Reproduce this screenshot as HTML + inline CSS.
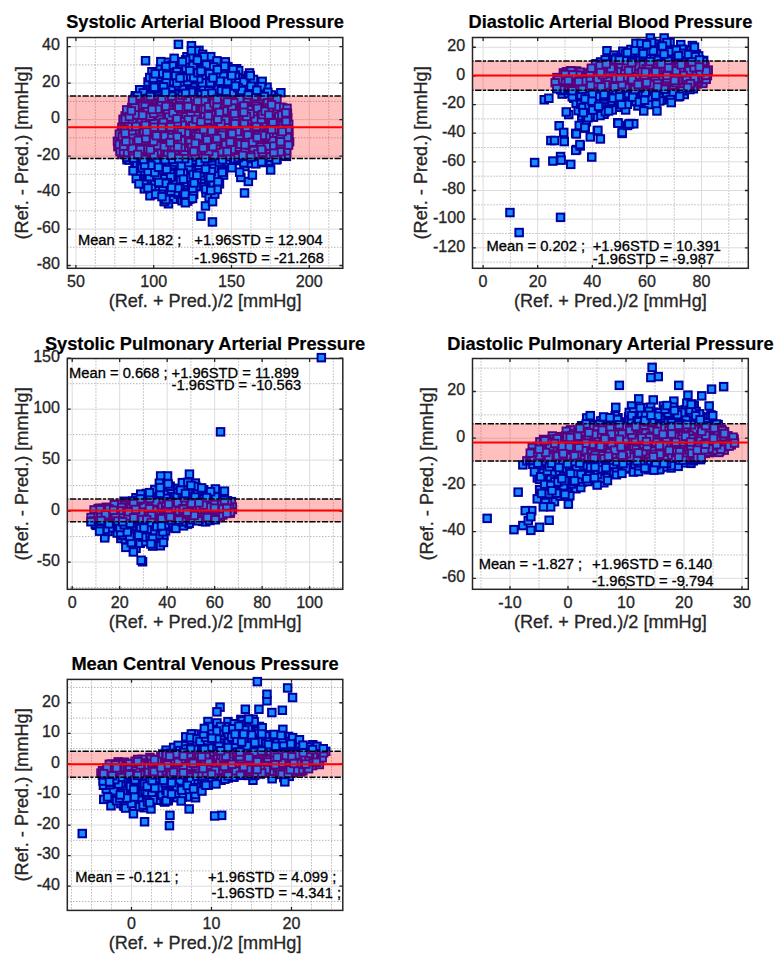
<!DOCTYPE html>
<html><head><meta charset="utf-8"><title>Bland-Altman</title><style>html,body{margin:0;padding:0;background:#fff;}
svg{display:block;}
text{font-family:"Liberation Sans", sans-serif;fill:#262626;stroke:#262626;stroke-width:0.3px;}
.tk{font-size:15.8px;}
.ti{font-size:17.7px;font-weight:bold;fill:#000;stroke:#000;stroke-width:0.2px;}
.lb{font-size:17.7px;}
.an{font-size:14.5px;fill:#000;stroke:#000;}
.mk rect,.u{width:7.5px;height:7.5px;}
.mo{fill:#148cff;stroke:#0000a0;stroke-width:2.0px;}
.mi{fill:#3278e6;stroke:#5a007c;stroke-width:1.9px;}
.dd{stroke:#000;stroke-width:1.5;stroke-dasharray:6.3 1.5 3.2 1.6;stroke-dashoffset:10;fill:none;}
</style></head>
<body><svg width="784" height="962" viewBox="0 0 784 962">
<defs>
<clipPath id="a0"><rect x="67.3" y="37.5" width="275.5" height="230.8"/></clipPath>
<clipPath id="o0"><path clip-rule="evenodd" d="M37.3 7.5H372.8V298.3H37.3zM67.3 96.06H342.8V158.39H67.3z"/></clipPath>
<clipPath id="n0"><rect x="67.3" y="96.06" width="275.5" height="62.33"/></clipPath>
<g id="m0" class="mk"><rect x="168.4" y="141.1"/><rect x="220.6" y="90.2"/><rect x="148.0" y="141.3"/><rect x="249.4" y="132.1"/><rect x="280.3" y="143.3"/><rect x="184.0" y="197.3"/><rect x="136.5" y="170.8"/><rect x="198.9" y="93.3"/><rect x="223.7" y="143.2"/><rect x="179.3" y="111.8"/><rect x="123.7" y="140.9"/><rect x="228.3" y="161.2"/><rect x="124.3" y="109.3"/><rect x="151.3" y="153.8"/><rect x="160.6" y="197.4"/><rect x="282.9" y="149.8"/><rect x="173.2" y="119.3"/><rect x="228.2" y="140.1"/><rect x="140.0" y="174.0"/><rect x="235.5" y="148.4"/><rect x="178.3" y="197.0"/><rect x="187.7" y="42.0"/><rect x="165.2" y="100.6"/><rect x="174.2" y="112.4"/><rect x="119.8" y="142.9"/><rect x="171.0" y="95.8"/><rect x="146.2" y="140.7"/><rect x="196.2" y="86.7"/><rect x="141.1" y="86.8"/><rect x="203.5" y="74.1"/><rect x="134.5" y="145.6"/><rect x="210.2" y="83.4"/><rect x="183.7" y="83.3"/><rect x="158.1" y="77.2"/><rect x="263.3" y="83.4"/><rect x="143.4" y="112.2"/><rect x="261.6" y="125.8"/><rect x="190.5" y="150.4"/><rect x="244.6" y="177.7"/><rect x="241.0" y="90.2"/><rect x="183.4" y="146.5"/><rect x="146.7" y="83.5"/><rect x="248.8" y="89.3"/><rect x="244.4" y="146.7"/><rect x="171.4" y="141.8"/><rect x="201.9" y="69.3"/><rect x="175.5" y="161.9"/><rect x="154.4" y="142.8"/><rect x="202.7" y="156.2"/><rect x="150.6" y="162.7"/><rect x="210.3" y="70.7"/><rect x="171.2" y="165.8"/><rect x="144.1" y="140.6"/><rect x="199.4" y="109.5"/><rect x="139.0" y="138.3"/><rect x="155.3" y="97.5"/><rect x="210.4" y="104.7"/><rect x="265.6" y="92.8"/><rect x="204.8" y="110.3"/><rect x="143.9" y="115.0"/><rect x="186.0" y="195.3"/><rect x="219.5" y="160.7"/><rect x="134.2" y="117.3"/><rect x="232.5" y="138.1"/><rect x="265.2" y="108.3"/><rect x="181.1" y="119.2"/><rect x="130.0" y="147.3"/><rect x="203.0" y="58.7"/><rect x="248.6" y="92.7"/><rect x="245.7" y="75.9"/><rect x="164.0" y="153.3"/><rect x="270.1" y="109.4"/><rect x="234.7" y="70.9"/><rect x="135.1" y="99.4"/><rect x="146.7" y="136.5"/><rect x="169.0" y="78.3"/><rect x="242.7" y="130.1"/><rect x="140.2" y="169.4"/><rect x="223.6" y="95.6"/><rect x="247.4" y="99.2"/><rect x="169.5" y="195.4"/><rect x="147.6" y="95.2"/><rect x="237.3" y="75.1"/><rect x="220.9" y="122.8"/><rect x="233.1" y="155.4"/><rect x="177.3" y="62.8"/><rect x="251.9" y="144.2"/><rect x="154.5" y="105.7"/><rect x="180.9" y="157.3"/><rect x="200.9" y="59.8"/><rect x="185.0" y="137.9"/><rect x="222.2" y="109.2"/><rect x="170.6" y="63.7"/><rect x="243.2" y="76.9"/><rect x="196.2" y="114.2"/><rect x="197.3" y="55.4"/><rect x="232.8" y="65.0"/><rect x="168.0" y="154.6"/><rect x="165.6" y="107.9"/><rect x="264.6" y="96.1"/><rect x="193.1" y="81.1"/><rect x="188.5" y="132.6"/><rect x="150.7" y="132.4"/><rect x="134.7" y="110.7"/><rect x="277.1" y="119.7"/><rect x="135.7" y="132.6"/><rect x="213.9" y="126.3"/><rect x="144.7" y="106.9"/><rect x="180.9" y="123.9"/><rect x="173.9" y="116.1"/><rect x="237.0" y="100.3"/><rect x="180.1" y="80.8"/><rect x="255.2" y="117.7"/><rect x="189.2" y="163.0"/><rect x="197.6" y="135.5"/><rect x="171.3" y="124.2"/><rect x="244.7" y="112.7"/><rect x="145.5" y="99.3"/><rect x="197.5" y="112.9"/><rect x="220.8" y="144.1"/><rect x="157.3" y="152.4"/><rect x="183.1" y="186.3"/><rect x="263.0" y="144.5"/><rect x="195.2" y="46.6"/><rect x="227.4" y="97.3"/><rect x="204.3" y="177.5"/><rect x="177.6" y="185.2"/><rect x="273.5" y="135.5"/><rect x="154.4" y="147.4"/><rect x="128.1" y="140.7"/><rect x="160.2" y="102.9"/><rect x="236.4" y="152.2"/><rect x="169.9" y="183.9"/><rect x="247.3" y="104.8"/><rect x="185.8" y="191.9"/><rect x="195.3" y="121.6"/><rect x="142.1" y="153.1"/><rect x="170.3" y="173.9"/><rect x="159.6" y="126.5"/><rect x="182.4" y="174.9"/><rect x="216.0" y="163.8"/><rect x="145.0" y="125.8"/><rect x="148.8" y="75.4"/><rect x="182.0" y="115.2"/><rect x="135.4" y="113.0"/><rect x="267.1" y="109.4"/><rect x="203.1" y="138.6"/><rect x="229.9" y="98.0"/><rect x="175.7" y="126.2"/><rect x="216.7" y="83.2"/><rect x="225.0" y="131.9"/><rect x="202.4" y="129.2"/><rect x="258.9" y="120.5"/><rect x="149.2" y="90.1"/><rect x="225.1" y="75.8"/><rect x="222.8" y="92.8"/><rect x="179.7" y="67.8"/><rect x="201.1" y="80.0"/><rect x="137.0" y="147.2"/><rect x="271.3" y="120.5"/><rect x="154.8" y="139.6"/><rect x="146.8" y="153.7"/><rect x="186.7" y="162.3"/><rect x="178.3" y="188.5"/><rect x="165.1" y="97.3"/><rect x="191.8" y="157.7"/><rect x="207.1" y="152.1"/><rect x="283.7" y="109.4"/><rect x="126.6" y="131.9"/><rect x="131.6" y="92.0"/><rect x="125.4" y="151.3"/><rect x="220.1" y="108.4"/><rect x="280.3" y="105.4"/><rect x="213.1" y="105.7"/><rect x="245.1" y="87.0"/><rect x="195.8" y="110.4"/><rect x="215.2" y="90.5"/><rect x="136.9" y="123.9"/><rect x="218.1" y="141.3"/><rect x="177.6" y="174.2"/><rect x="277.1" y="89.0"/><rect x="136.2" y="128.1"/><rect x="185.4" y="99.2"/><rect x="199.7" y="102.9"/><rect x="241.1" y="151.0"/><rect x="178.3" y="95.1"/><rect x="136.0" y="137.1"/><rect x="219.8" y="111.3"/><rect x="240.9" y="117.5"/><rect x="149.2" y="102.4"/><rect x="263.5" y="155.6"/><rect x="185.3" y="94.6"/><rect x="140.1" y="97.0"/><rect x="126.6" y="108.6"/><rect x="208.6" y="134.7"/><rect x="210.4" y="78.2"/><rect x="262.9" y="157.9"/><rect x="157.9" y="115.6"/><rect x="245.0" y="103.1"/><rect x="204.2" y="66.4"/><rect x="132.0" y="125.7"/><rect x="234.2" y="98.2"/><rect x="269.2" y="134.2"/><rect x="231.8" y="83.4"/><rect x="129.6" y="115.5"/><rect x="174.6" y="84.7"/><rect x="241.0" y="115.0"/><rect x="270.5" y="114.1"/><rect x="205.1" y="117.6"/><rect x="230.8" y="149.1"/><rect x="164.5" y="134.5"/><rect x="203.3" y="142.8"/><rect x="201.0" y="115.0"/><rect x="134.7" y="133.2"/><rect x="210.1" y="114.7"/><rect x="222.7" y="80.5"/><rect x="150.2" y="128.2"/><rect x="228.8" y="117.4"/><rect x="164.7" y="86.3"/><rect x="183.4" y="195.1"/><rect x="168.6" y="118.4"/><rect x="245.1" y="114.9"/><rect x="208.2" y="72.8"/><rect x="183.7" y="132.4"/><rect x="170.8" y="151.6"/><rect x="194.6" y="160.2"/><rect x="154.0" y="180.5"/><rect x="139.6" y="119.5"/><rect x="162.7" y="112.8"/><rect x="188.3" y="104.6"/><rect x="168.2" y="74.3"/><rect x="261.5" y="117.4"/><rect x="255.3" y="117.2"/><rect x="196.4" y="125.4"/><rect x="132.2" y="154.6"/><rect x="152.1" y="174.0"/><rect x="148.4" y="155.6"/><rect x="162.9" y="120.4"/><rect x="194.5" y="55.2"/><rect x="192.2" y="98.7"/><rect x="128.7" y="125.2"/><rect x="186.1" y="122.5"/><rect x="212.0" y="153.2"/><rect x="160.6" y="104.6"/><rect x="238.0" y="131.9"/><rect x="222.1" y="120.7"/><rect x="148.1" y="113.8"/><rect x="208.1" y="118.2"/><rect x="225.6" y="79.8"/><rect x="174.3" y="190.4"/><rect x="201.7" y="202.2"/><rect x="248.5" y="116.0"/><rect x="170.7" y="94.2"/><rect x="250.7" y="149.9"/><rect x="151.4" y="115.3"/><rect x="173.1" y="133.3"/><rect x="250.4" y="127.9"/><rect x="189.3" y="151.2"/><rect x="216.3" y="93.3"/><rect x="257.2" y="103.4"/><rect x="185.9" y="110.4"/><rect x="241.5" y="121.4"/><rect x="169.1" y="114.0"/><rect x="167.6" y="182.0"/><rect x="164.7" y="200.0"/><rect x="237.1" y="173.7"/><rect x="133.4" y="99.1"/><rect x="130.8" y="129.3"/><rect x="164.1" y="58.5"/><rect x="207.2" y="145.7"/><rect x="210.9" y="123.8"/><rect x="193.8" y="59.7"/><rect x="131.7" y="109.4"/><rect x="247.2" y="124.8"/><rect x="129.0" y="136.5"/><rect x="229.0" y="69.1"/><rect x="203.4" y="78.1"/><rect x="180.5" y="102.5"/><rect x="217.7" y="96.6"/><rect x="194.7" y="114.8"/><rect x="147.9" y="191.0"/><rect x="284.8" y="132.5"/><rect x="222.0" y="154.4"/><rect x="234.0" y="135.1"/><rect x="222.3" y="103.8"/><rect x="273.7" y="104.2"/><rect x="234.9" y="125.3"/><rect x="136.8" y="102.8"/><rect x="166.6" y="128.3"/><rect x="180.1" y="88.0"/><rect x="129.0" y="106.9"/><rect x="123.3" y="156.0"/><rect x="197.3" y="164.5"/><rect x="241.7" y="157.1"/><rect x="213.0" y="142.9"/><rect x="202.1" y="117.4"/><rect x="147.0" y="102.7"/><rect x="278.4" y="145.4"/><rect x="173.6" y="134.6"/><rect x="141.8" y="174.9"/><rect x="132.6" y="116.1"/><rect x="143.1" y="133.2"/><rect x="139.5" y="116.1"/><rect x="139.1" y="147.0"/><rect x="193.6" y="92.4"/><rect x="253.5" y="133.7"/><rect x="263.8" y="119.6"/><rect x="134.1" y="95.7"/><rect x="151.3" y="109.2"/><rect x="285.9" y="138.0"/><rect x="250.1" y="82.1"/><rect x="247.1" y="140.1"/><rect x="243.9" y="123.4"/><rect x="172.4" y="102.4"/><rect x="200.7" y="177.7"/><rect x="171.2" y="178.7"/><rect x="269.8" y="93.6"/><rect x="206.5" y="156.8"/><rect x="222.3" y="72.7"/><rect x="236.3" y="79.4"/><rect x="248.4" y="145.6"/><rect x="224.5" y="132.7"/><rect x="188.5" y="155.3"/><rect x="258.6" y="138.6"/><rect x="256.4" y="101.9"/><rect x="195.9" y="121.6"/><rect x="270.4" y="128.1"/><rect x="232.6" y="88.6"/><rect x="239.9" y="133.8"/><rect x="154.0" y="136.5"/><rect x="150.2" y="75.9"/><rect x="173.6" y="136.9"/><rect x="182.9" y="140.1"/><rect x="241.2" y="162.8"/><rect x="198.0" y="138.4"/><rect x="150.3" y="135.1"/><rect x="264.0" y="153.2"/><rect x="176.8" y="110.8"/><rect x="160.7" y="90.1"/><rect x="234.3" y="103.2"/><rect x="179.9" y="182.9"/><rect x="245.8" y="93.8"/><rect x="261.5" y="103.1"/><rect x="191.2" y="76.6"/><rect x="244.2" y="119.9"/><rect x="193.1" y="50.5"/><rect x="172.2" y="148.4"/><rect x="256.2" y="96.7"/><rect x="168.7" y="101.3"/><rect x="140.8" y="106.5"/><rect x="234.9" y="66.8"/><rect x="239.1" y="139.0"/><rect x="144.3" y="78.2"/><rect x="238.2" y="111.0"/><rect x="191.8" y="88.3"/><rect x="146.2" y="192.0"/><rect x="190.2" y="111.3"/><rect x="176.4" y="152.0"/><rect x="171.3" y="168.2"/><rect x="214.4" y="73.0"/><rect x="189.5" y="92.4"/><rect x="167.8" y="178.9"/><rect x="114.1" y="142.9"/><rect x="275.1" y="150.1"/><rect x="160.0" y="169.3"/><rect x="250.3" y="108.1"/><rect x="259.9" y="91.0"/><rect x="265.3" y="114.9"/><rect x="124.0" y="126.9"/><rect x="124.2" y="143.3"/><rect x="242.1" y="95.3"/><rect x="154.5" y="78.2"/><rect x="157.7" y="138.9"/><rect x="160.5" y="164.6"/><rect x="128.9" y="130.4"/><rect x="205.5" y="164.9"/><rect x="270.0" y="130.7"/><rect x="270.3" y="111.7"/><rect x="268.9" y="112.8"/><rect x="140.7" y="123.6"/><rect x="186.2" y="78.0"/><rect x="143.2" y="109.9"/><rect x="168.4" y="107.3"/><rect x="238.9" y="105.6"/><rect x="224.2" y="63.1"/><rect x="191.6" y="96.2"/><rect x="161.0" y="180.3"/><rect x="175.3" y="172.1"/><rect x="172.4" y="110.6"/><rect x="132.4" y="102.9"/><rect x="233.7" y="130.1"/><rect x="240.1" y="148.7"/><rect x="216.7" y="146.0"/><rect x="199.6" y="129.5"/><rect x="230.8" y="136.5"/><rect x="266.8" y="116.9"/><rect x="194.9" y="102.9"/><rect x="176.8" y="181.3"/><rect x="255.0" y="148.2"/><rect x="184.2" y="181.0"/><rect x="166.5" y="119.1"/><rect x="206.1" y="114.0"/><rect x="243.7" y="137.7"/><rect x="154.2" y="119.0"/><rect x="280.6" y="128.3"/><rect x="208.8" y="63.1"/><rect x="248.7" y="121.8"/><rect x="262.4" y="123.5"/><rect x="225.5" y="140.2"/><rect x="188.5" y="156.5"/><rect x="256.1" y="142.8"/><rect x="240.8" y="152.6"/><rect x="229.4" y="92.6"/><rect x="201.6" y="134.4"/><rect x="264.9" y="125.7"/><rect x="157.3" y="145.1"/><rect x="205.7" y="109.5"/><rect x="163.6" y="104.5"/><rect x="209.1" y="128.7"/><rect x="202.4" y="87.1"/><rect x="210.7" y="57.7"/><rect x="127.8" y="135.0"/><rect x="184.4" y="135.0"/><rect x="209.9" y="176.4"/><rect x="186.3" y="176.5"/><rect x="267.5" y="140.9"/><rect x="204.8" y="181.3"/><rect x="137.6" y="122.9"/><rect x="152.8" y="186.9"/><rect x="181.8" y="109.4"/><rect x="187.2" y="165.8"/><rect x="220.6" y="139.0"/><rect x="144.6" y="146.7"/><rect x="220.8" y="67.5"/><rect x="137.7" y="120.0"/><rect x="213.7" y="151.5"/><rect x="183.6" y="80.8"/><rect x="164.7" y="83.0"/><rect x="119.3" y="115.5"/><rect x="168.9" y="99.7"/><rect x="203.4" y="150.9"/><rect x="230.2" y="120.8"/><rect x="143.8" y="144.1"/><rect x="147.7" y="121.8"/><rect x="279.6" y="148.8"/><rect x="181.5" y="74.6"/><rect x="175.4" y="97.8"/><rect x="181.2" y="161.2"/><rect x="238.9" y="121.3"/><rect x="172.4" y="180.3"/><rect x="246.4" y="126.8"/><rect x="207.7" y="177.2"/><rect x="121.4" y="112.1"/><rect x="196.9" y="110.0"/><rect x="188.8" y="142.6"/><rect x="171.9" y="68.1"/><rect x="211.4" y="183.9"/><rect x="174.1" y="129.8"/><rect x="196.2" y="149.7"/><rect x="176.8" y="176.2"/><rect x="158.4" y="129.7"/><rect x="227.4" y="104.3"/><rect x="238.7" y="127.0"/><rect x="281.7" y="114.6"/><rect x="243.7" y="135.0"/><rect x="258.6" y="134.0"/><rect x="116.4" y="147.0"/><rect x="136.3" y="91.7"/><rect x="184.1" y="141.5"/><rect x="217.9" y="132.6"/><rect x="156.3" y="112.2"/><rect x="208.0" y="147.8"/><rect x="204.1" y="104.7"/><rect x="225.3" y="144.9"/><rect x="182.5" y="106.3"/><rect x="160.7" y="197.9"/><rect x="204.4" y="171.2"/><rect x="187.1" y="169.1"/><rect x="135.4" y="106.9"/><rect x="189.4" y="99.2"/><rect x="222.0" y="62.3"/><rect x="284.0" y="114.0"/><rect x="261.8" y="140.9"/><rect x="209.3" y="181.4"/><rect x="149.5" y="114.6"/><rect x="215.5" y="121.8"/><rect x="253.7" y="87.3"/><rect x="197.3" y="171.1"/><rect x="263.8" y="89.8"/><rect x="136.0" y="154.8"/><rect x="113.7" y="137.5"/><rect x="140.7" y="134.4"/><rect x="206.5" y="65.8"/><rect x="224.6" y="137.5"/><rect x="206.8" y="96.9"/><rect x="160.7" y="97.2"/><rect x="194.4" y="87.8"/><rect x="180.1" y="131.9"/><rect x="246.8" y="151.0"/><rect x="218.5" y="77.8"/><rect x="164.9" y="71.1"/><rect x="234.0" y="73.9"/><rect x="157.1" y="127.9"/><rect x="196.9" y="76.1"/><rect x="232.5" y="114.6"/><rect x="165.3" y="163.6"/><rect x="276.2" y="110.4"/><rect x="253.4" y="141.5"/><rect x="149.2" y="148.4"/><rect x="181.6" y="94.1"/><rect x="204.2" y="162.8"/><rect x="238.9" y="97.0"/><rect x="185.2" y="81.1"/><rect x="189.6" y="82.1"/><rect x="277.5" y="107.6"/><rect x="240.8" y="105.7"/><rect x="180.8" y="195.2"/><rect x="236.5" y="143.2"/><rect x="203.4" y="92.9"/><rect x="179.1" y="117.0"/><rect x="234.5" y="156.9"/><rect x="131.4" y="94.5"/><rect x="160.5" y="131.9"/><rect x="268.3" y="106.8"/><rect x="195.8" y="98.9"/><rect x="280.0" y="118.4"/><rect x="221.2" y="119.3"/><rect x="177.0" y="125.5"/><rect x="228.6" y="116.7"/><rect x="217.1" y="152.6"/><rect x="250.6" y="86.5"/><rect x="152.6" y="124.9"/><rect x="192.2" y="127.7"/><rect x="131.2" y="161.8"/><rect x="202.3" y="189.1"/><rect x="148.9" y="87.7"/><rect x="251.4" y="148.8"/><rect x="197.2" y="81.5"/><rect x="178.2" y="103.6"/><rect x="163.0" y="143.5"/><rect x="186.8" y="129.9"/><rect x="268.8" y="129.5"/><rect x="244.6" y="83.8"/><rect x="190.6" y="173.6"/><rect x="155.3" y="154.8"/><rect x="175.6" y="121.3"/><rect x="246.3" y="97.9"/><rect x="255.1" y="113.9"/><rect x="189.5" y="70.8"/><rect x="158.9" y="160.0"/><rect x="190.7" y="64.4"/><rect x="122.0" y="135.3"/><rect x="248.4" y="117.6"/><rect x="156.3" y="120.5"/><rect x="138.3" y="141.0"/><rect x="229.6" y="79.0"/><rect x="205.4" y="193.9"/><rect x="143.8" y="179.6"/><rect x="282.7" y="143.3"/><rect x="163.1" y="159.4"/><rect x="149.4" y="144.1"/><rect x="218.1" y="115.3"/><rect x="215.7" y="180.1"/><rect x="258.4" y="77.6"/><rect x="124.5" y="112.6"/><rect x="141.8" y="57.0"/><rect x="144.9" y="164.4"/><rect x="156.6" y="155.8"/><rect x="118.1" y="150.7"/><rect x="185.5" y="151.8"/><rect x="209.7" y="88.1"/><rect x="195.1" y="107.1"/><rect x="166.7" y="168.9"/><rect x="159.7" y="134.4"/><rect x="143.6" y="137.5"/><rect x="195.8" y="120.2"/><rect x="176.7" y="142.4"/><rect x="233.6" y="101.3"/><rect x="212.2" y="138.3"/><rect x="223.3" y="111.7"/><rect x="240.8" y="189.2"/><rect x="156.3" y="119.4"/><rect x="259.5" y="101.1"/><rect x="148.2" y="68.0"/><rect x="171.5" y="188.6"/><rect x="124.6" y="119.5"/><rect x="133.8" y="135.3"/><rect x="254.0" y="131.3"/><rect x="266.5" y="98.0"/><rect x="220.2" y="152.8"/><rect x="166.3" y="101.7"/><rect x="146.1" y="179.4"/><rect x="224.1" y="126.5"/><rect x="132.1" y="156.9"/><rect x="183.5" y="178.6"/><rect x="252.0" y="152.7"/><rect x="212.9" y="118.7"/><rect x="161.7" y="134.0"/><rect x="213.0" y="127.2"/><rect x="178.5" y="84.0"/><rect x="154.4" y="73.6"/><rect x="133.1" y="161.1"/><rect x="189.4" y="83.5"/><rect x="125.3" y="130.5"/><rect x="214.4" y="70.1"/><rect x="183.8" y="71.1"/><rect x="243.5" y="129.4"/><rect x="186.6" y="120.3"/><rect x="158.9" y="148.1"/><rect x="174.8" y="164.6"/><rect x="202.0" y="140.8"/><rect x="225.0" y="116.0"/><rect x="181.5" y="97.0"/><rect x="166.4" y="133.1"/><rect x="149.0" y="100.6"/><rect x="170.2" y="138.9"/><rect x="161.1" y="91.9"/><rect x="168.8" y="80.3"/><rect x="269.6" y="143.9"/><rect x="163.2" y="126.1"/><rect x="188.7" y="69.1"/><rect x="164.6" y="186.0"/><rect x="191.4" y="54.0"/><rect x="269.5" y="96.2"/><rect x="198.5" y="183.0"/><rect x="164.0" y="147.1"/><rect x="221.6" y="58.1"/><rect x="231.2" y="155.4"/><rect x="265.2" y="134.9"/><rect x="201.4" y="172.0"/><rect x="251.7" y="118.9"/><rect x="233.2" y="106.8"/><rect x="214.7" y="132.0"/><rect x="181.7" y="199.0"/><rect x="188.8" y="97.3"/><rect x="137.6" y="135.0"/><rect x="269.6" y="149.0"/><rect x="118.6" y="144.8"/><rect x="142.5" y="126.5"/><rect x="155.0" y="101.9"/><rect x="180.1" y="136.3"/><rect x="143.9" y="175.6"/><rect x="171.9" y="111.5"/><rect x="279.2" y="111.9"/><rect x="174.7" y="110.4"/><rect x="199.3" y="93.5"/><rect x="136.0" y="115.2"/><rect x="231.6" y="141.1"/><rect x="230.9" y="136.3"/><rect x="141.8" y="99.4"/><rect x="258.1" y="158.8"/><rect x="159.3" y="174.1"/><rect x="161.8" y="189.1"/><rect x="128.0" y="153.6"/><rect x="234.4" y="90.0"/><rect x="194.7" y="151.0"/><rect x="254.8" y="120.7"/><rect x="224.2" y="152.3"/><rect x="273.9" y="110.7"/><rect x="192.3" y="55.5"/><rect x="206.2" y="94.6"/><rect x="143.5" y="152.0"/><rect x="233.8" y="147.4"/><rect x="236.9" y="106.8"/><rect x="235.6" y="122.2"/><rect x="208.1" y="138.3"/><rect x="183.9" y="105.7"/><rect x="148.5" y="164.0"/><rect x="211.8" y="64.8"/><rect x="215.3" y="101.2"/><rect x="218.8" y="98.8"/><rect x="182.9" y="99.3"/><rect x="128.0" y="136.5"/><rect x="156.6" y="65.1"/><rect x="266.4" y="92.9"/><rect x="273.6" y="120.7"/><rect x="229.9" y="124.9"/><rect x="163.4" y="122.7"/><rect x="147.6" y="109.2"/><rect x="263.1" y="106.5"/><rect x="169.2" y="86.5"/><rect x="167.5" y="143.5"/><rect x="257.2" y="86.4"/><rect x="184.4" y="143.9"/><rect x="185.9" y="111.1"/><rect x="153.2" y="135.5"/><rect x="218.6" y="116.4"/><rect x="193.3" y="125.7"/><rect x="162.0" y="127.9"/><rect x="136.7" y="157.6"/><rect x="247.5" y="135.2"/><rect x="198.8" y="147.5"/><rect x="162.3" y="78.9"/><rect x="172.1" y="162.5"/><rect x="198.3" y="74.6"/><rect x="220.3" y="150.5"/><rect x="210.0" y="113.2"/><rect x="168.8" y="69.6"/><rect x="208.7" y="218.2"/><rect x="218.4" y="95.3"/><rect x="171.4" y="145.6"/><rect x="231.6" y="71.3"/><rect x="126.7" y="118.1"/><rect x="159.9" y="154.4"/><rect x="161.2" y="114.1"/><rect x="189.9" y="140.1"/><rect x="149.3" y="93.2"/><rect x="151.5" y="111.5"/><rect x="235.8" y="117.5"/><rect x="157.8" y="176.9"/><rect x="268.9" y="130.7"/><rect x="155.9" y="84.7"/><rect x="210.8" y="162.9"/><rect x="244.6" y="72.1"/><rect x="225.6" y="147.8"/><rect x="172.1" y="99.6"/><rect x="140.6" y="185.1"/><rect x="134.2" y="106.0"/><rect x="229.3" y="65.7"/><rect x="166.1" y="65.4"/><rect x="259.7" y="105.0"/><rect x="210.9" y="147.3"/><rect x="231.6" y="110.4"/><rect x="271.7" y="100.8"/><rect x="260.6" y="137.0"/><rect x="214.8" y="173.7"/><rect x="226.7" y="98.9"/><rect x="222.4" y="127.3"/><rect x="236.5" y="128.6"/><rect x="174.5" y="157.1"/><rect x="138.7" y="110.1"/><rect x="235.0" y="79.0"/><rect x="134.3" y="129.2"/><rect x="138.3" y="164.0"/><rect x="245.4" y="137.5"/><rect x="168.6" y="160.8"/><rect x="140.3" y="180.4"/><rect x="266.3" y="157.3"/><rect x="195.3" y="65.8"/><rect x="199.1" y="130.2"/><rect x="164.9" y="62.1"/><rect x="210.2" y="102.3"/><rect x="178.9" y="101.2"/><rect x="266.9" y="166.2"/><rect x="166.1" y="116.8"/><rect x="168.1" y="124.6"/><rect x="167.4" y="91.2"/><rect x="240.1" y="141.0"/><rect x="158.2" y="96.4"/><rect x="281.4" y="136.1"/><rect x="205.7" y="125.1"/><rect x="136.8" y="140.5"/><rect x="160.3" y="152.3"/><rect x="149.0" y="126.1"/><rect x="169.1" y="148.2"/><rect x="274.5" y="146.1"/><rect x="285.2" y="128.2"/><rect x="211.3" y="156.4"/><rect x="218.9" y="64.9"/><rect x="264.4" y="131.7"/><rect x="205.2" y="97.1"/><rect x="219.3" y="141.5"/><rect x="233.6" y="149.9"/><rect x="162.9" y="170.3"/><rect x="190.4" y="126.4"/><rect x="270.3" y="139.5"/><rect x="193.2" y="129.6"/><rect x="260.4" y="149.6"/><rect x="188.8" y="134.2"/><rect x="146.3" y="151.3"/><rect x="199.2" y="163.0"/><rect x="163.4" y="138.0"/><rect x="120.7" y="150.5"/><rect x="207.0" y="52.9"/><rect x="220.2" y="148.6"/><rect x="172.1" y="81.7"/><rect x="176.0" y="99.2"/><rect x="219.7" y="72.3"/><rect x="284.3" y="136.7"/><rect x="218.2" y="81.9"/><rect x="148.3" y="177.3"/><rect x="171.1" y="158.3"/><rect x="150.2" y="182.8"/><rect x="238.6" y="126.0"/><rect x="253.0" y="90.5"/><rect x="204.1" y="145.6"/><rect x="168.4" y="95.7"/><rect x="279.2" y="125.3"/><rect x="216.1" y="129.7"/><rect x="245.0" y="134.9"/><rect x="137.0" y="97.0"/><rect x="168.3" y="127.9"/><rect x="252.5" y="94.9"/><rect x="272.8" y="138.6"/><rect x="200.6" y="158.2"/><rect x="121.1" y="130.5"/><rect x="197.7" y="89.0"/><rect x="184.5" y="153.9"/><rect x="227.6" y="120.5"/><rect x="260.7" y="147.3"/><rect x="196.7" y="131.8"/><rect x="194.0" y="139.7"/><rect x="166.1" y="141.5"/><rect x="122.9" y="134.5"/><rect x="127.4" y="148.7"/><rect x="219.8" y="171.3"/><rect x="175.5" y="148.1"/><rect x="145.2" y="170.8"/><rect x="209.8" y="131.8"/><rect x="241.1" y="143.6"/><rect x="238.7" y="92.9"/><rect x="186.1" y="128.4"/><rect x="159.5" y="111.7"/><rect x="213.2" y="57.1"/><rect x="154.8" y="81.3"/><rect x="275.2" y="116.3"/><rect x="188.0" y="115.5"/><rect x="157.4" y="83.5"/><rect x="133.3" y="141.9"/><rect x="149.4" y="96.3"/><rect x="203.8" y="132.2"/><rect x="282.0" y="121.5"/><rect x="141.7" y="117.4"/><rect x="165.1" y="106.2"/><rect x="133.7" y="171.9"/><rect x="227.1" y="94.8"/><rect x="146.0" y="73.8"/><rect x="212.0" y="112.3"/><rect x="180.7" y="145.9"/><rect x="252.2" y="106.2"/><rect x="183.6" y="169.9"/><rect x="191.8" y="134.2"/><rect x="180.6" y="122.2"/><rect x="128.6" y="120.8"/><rect x="199.7" y="150.1"/><rect x="245.8" y="69.2"/><rect x="232.2" y="92.4"/><rect x="145.8" y="145.4"/><rect x="158.8" y="110.0"/><rect x="280.4" y="130.2"/><rect x="167.3" y="86.5"/><rect x="247.0" y="143.5"/><rect x="267.6" y="91.2"/><rect x="192.3" y="47.0"/><rect x="138.7" y="125.1"/><rect x="254.2" y="99.0"/><rect x="205.5" y="154.5"/><rect x="226.9" y="126.1"/><rect x="192.0" y="130.6"/><rect x="198.7" y="65.8"/><rect x="189.0" y="92.7"/><rect x="215.4" y="123.9"/><rect x="209.8" y="153.8"/><rect x="237.7" y="145.8"/><rect x="192.6" y="182.3"/><rect x="225.6" y="133.6"/><rect x="148.7" y="155.5"/><rect x="257.7" y="82.9"/><rect x="257.2" y="108.7"/><rect x="246.5" y="159.6"/><rect x="241.3" y="146.8"/><rect x="132.5" y="174.8"/><rect x="174.3" y="184.4"/><rect x="264.6" y="121.9"/><rect x="229.5" y="106.3"/><rect x="139.7" y="150.8"/><rect x="198.2" y="155.2"/><rect x="267.3" y="147.4"/><rect x="177.8" y="154.0"/><rect x="165.1" y="94.7"/><rect x="127.5" y="117.2"/><rect x="154.4" y="170.7"/><rect x="254.2" y="94.7"/><rect x="242.9" y="110.4"/><rect x="240.0" y="81.8"/><rect x="151.9" y="151.6"/><rect x="222.4" y="158.7"/><rect x="197.2" y="172.1"/><rect x="155.3" y="163.0"/><rect x="248.6" y="127.6"/><rect x="242.4" y="81.6"/><rect x="199.5" y="112.5"/><rect x="262.7" y="136.4"/><rect x="232.1" y="97.0"/><rect x="262.2" y="130.0"/><rect x="172.1" y="154.5"/><rect x="230.2" y="132.7"/><rect x="154.7" y="90.7"/><rect x="217.3" y="138.7"/><rect x="208.7" y="123.2"/><rect x="130.5" y="112.2"/><rect x="217.2" y="112.5"/><rect x="187.8" y="112.8"/><rect x="144.7" y="159.6"/><rect x="224.8" y="120.2"/><rect x="240.2" y="78.2"/><rect x="170.1" y="78.0"/><rect x="186.6" y="124.9"/><rect x="182.2" y="113.0"/><rect x="156.0" y="188.5"/><rect x="258.0" y="95.5"/><rect x="182.3" y="64.6"/><rect x="196.9" y="145.0"/><rect x="129.2" y="133.3"/><rect x="193.4" y="110.9"/><rect x="178.6" y="151.0"/><rect x="225.0" y="129.7"/><rect x="209.8" y="63.2"/><rect x="249.3" y="103.7"/><rect x="273.4" y="119.5"/><rect x="146.7" y="118.5"/><rect x="181.3" y="190.4"/><rect x="246.4" y="99.6"/><rect x="200.0" y="100.3"/><rect x="159.9" y="83.1"/><rect x="175.8" y="141.7"/><rect x="260.6" y="109.7"/><rect x="147.0" y="128.7"/><rect x="174.7" y="40.6"/><rect x="185.6" y="173.7"/><rect x="227.0" y="108.5"/><rect x="247.5" y="108.3"/><rect x="179.2" y="133.9"/><rect x="163.7" y="109.6"/><rect x="262.6" y="116.4"/><rect x="192.6" y="167.1"/><rect x="161.5" y="66.8"/><rect x="155.4" y="134.2"/><rect x="273.2" y="104.6"/><rect x="282.7" y="152.6"/><rect x="271.6" y="107.2"/><rect x="151.8" y="145.5"/><rect x="231.6" y="121.3"/><rect x="237.3" y="93.2"/><rect x="280.0" y="139.4"/><rect x="236.6" y="134.9"/><rect x="153.7" y="93.2"/><rect x="265.0" y="148.6"/><rect x="227.7" y="111.3"/><rect x="279.5" y="104.4"/><rect x="233.1" y="143.5"/><rect x="173.2" y="138.1"/><rect x="229.7" y="151.0"/><rect x="271.1" y="154.1"/><rect x="117.0" y="137.6"/><rect x="225.5" y="149.7"/><rect x="147.4" y="131.4"/><rect x="277.8" y="103.5"/><rect x="211.8" y="171.0"/><rect x="228.8" y="85.2"/><rect x="259.2" y="128.9"/><rect x="207.5" y="123.4"/><rect x="195.1" y="165.0"/><rect x="275.5" y="129.4"/><rect x="246.0" y="141.5"/><rect x="146.0" y="116.0"/><rect x="192.6" y="110.2"/><rect x="205.9" y="69.9"/><rect x="136.0" y="86.0"/><rect x="171.1" y="91.0"/><rect x="155.8" y="92.2"/><rect x="185.5" y="59.3"/><rect x="273.6" y="146.0"/><rect x="273.0" y="132.5"/><rect x="167.1" y="115.0"/><rect x="151.3" y="128.9"/><rect x="271.7" y="119.0"/><rect x="213.7" y="167.4"/><rect x="269.1" y="101.4"/><rect x="188.8" y="56.5"/><rect x="175.9" y="76.9"/><rect x="239.4" y="100.6"/><rect x="199.6" y="83.6"/><rect x="201.8" y="149.2"/><rect x="211.0" y="190.3"/><rect x="117.3" y="135.2"/><rect x="177.1" y="78.2"/><rect x="159.8" y="141.4"/><rect x="129.1" y="121.3"/><rect x="218.9" y="126.0"/><rect x="212.4" y="83.0"/><rect x="261.8" y="113.3"/><rect x="150.1" y="164.9"/><rect x="194.8" y="153.4"/><rect x="141.7" y="104.3"/><rect x="268.5" y="122.0"/><rect x="176.3" y="104.9"/><rect x="191.5" y="153.1"/><rect x="211.8" y="171.5"/><rect x="213.1" y="92.1"/><rect x="210.3" y="133.5"/><rect x="241.9" y="102.8"/><rect x="138.5" y="101.3"/><rect x="196.2" y="158.5"/><rect x="198.3" y="103.9"/><rect x="152.4" y="96.1"/><rect x="189.1" y="61.7"/><rect x="269.7" y="133.4"/><rect x="225.5" y="152.9"/><rect x="191.2" y="144.6"/><rect x="198.4" y="79.1"/><rect x="217.0" y="160.3"/><rect x="228.5" y="88.9"/><rect x="277.7" y="134.3"/><rect x="116.4" y="148.0"/><rect x="189.9" y="190.6"/><rect x="222.0" y="86.8"/><rect x="211.5" y="96.7"/><rect x="229.6" y="113.8"/><rect x="249.7" y="75.7"/><rect x="143.2" y="104.7"/><rect x="196.2" y="129.8"/><rect x="150.9" y="177.2"/><rect x="275.9" y="114.4"/><rect x="242.5" y="98.9"/><rect x="163.0" y="165.8"/><rect x="139.8" y="145.1"/><rect x="161.3" y="154.0"/><rect x="154.2" y="70.8"/><rect x="248.5" y="96.6"/><rect x="130.1" y="140.5"/><rect x="125.9" y="126.6"/><rect x="273.2" y="124.3"/><rect x="231.0" y="155.3"/><rect x="153.7" y="99.8"/><rect x="157.1" y="57.9"/><rect x="201.9" y="122.8"/><rect x="183.2" y="53.0"/><rect x="253.6" y="108.7"/><rect x="251.0" y="100.6"/><rect x="173.4" y="104.6"/><rect x="258.9" y="141.0"/><rect x="155.6" y="124.5"/><rect x="262.3" y="99.7"/><rect x="172.1" y="121.8"/><rect x="205.8" y="100.3"/><rect x="274.6" y="140.2"/><rect x="155.5" y="109.3"/><rect x="208.2" y="161.4"/><rect x="214.2" y="148.6"/><rect x="205.2" y="86.9"/><rect x="139.5" y="94.5"/><rect x="213.7" y="85.4"/><rect x="204.3" y="123.3"/><rect x="141.5" y="156.7"/><rect x="220.8" y="62.5"/><rect x="157.9" y="156.9"/><rect x="255.9" y="158.0"/><rect x="187.8" y="148.0"/><rect x="206.6" y="139.9"/><rect x="138.5" y="154.6"/><rect x="273.2" y="95.2"/><rect x="246.6" y="154.9"/><rect x="210.1" y="164.6"/><rect x="216.0" y="133.7"/><rect x="197.2" y="212.4"/><rect x="149.4" y="81.0"/><rect x="254.7" y="137.3"/><rect x="168.5" y="61.3"/><rect x="246.5" y="72.0"/><rect x="221.7" y="133.6"/><rect x="251.2" y="137.5"/><rect x="264.5" y="138.0"/><rect x="145.7" y="172.9"/><rect x="203.7" y="154.2"/><rect x="179.3" y="133.0"/><rect x="272.4" y="102.9"/><rect x="125.3" y="138.3"/><rect x="163.3" y="149.8"/><rect x="205.9" y="114.3"/><rect x="253.0" y="131.3"/><rect x="200.5" y="138.3"/><rect x="177.1" y="105.1"/><rect x="185.7" y="118.8"/><rect x="257.0" y="124.1"/><rect x="161.1" y="175.0"/><rect x="125.4" y="116.3"/><rect x="215.3" y="149.6"/><rect x="141.3" y="100.5"/><rect x="222.1" y="120.1"/><rect x="115.9" y="140.2"/><rect x="128.0" y="103.6"/><rect x="239.3" y="115.8"/><rect x="207.3" y="133.2"/><rect x="245.7" y="127.9"/><rect x="236.9" y="114.6"/><rect x="121.7" y="123.2"/><rect x="179.1" y="146.2"/><rect x="252.0" y="102.4"/><rect x="153.5" y="173.4"/><rect x="121.5" y="115.4"/><rect x="235.8" y="137.2"/><rect x="144.3" y="167.6"/><rect x="173.2" y="67.9"/><rect x="188.0" y="181.7"/><rect x="235.4" y="113.8"/><rect x="129.3" y="167.0"/><rect x="150.6" y="83.5"/><rect x="183.5" y="95.0"/><rect x="165.0" y="113.3"/><rect x="281.9" y="142.2"/><rect x="236.8" y="140.5"/><rect x="153.6" y="147.8"/><rect x="183.8" y="77.6"/><rect x="117.5" y="129.2"/><rect x="155.4" y="187.0"/><rect x="149.7" y="74.5"/><rect x="155.8" y="115.6"/><rect x="220.3" y="92.8"/><rect x="266.6" y="144.2"/><rect x="282.7" y="147.0"/><rect x="214.2" y="121.8"/><rect x="221.8" y="116.5"/><rect x="128.7" y="118.8"/><rect x="181.6" y="138.3"/><rect x="151.1" y="168.7"/><rect x="275.1" y="112.7"/><rect x="195.0" y="75.1"/><rect x="136.1" y="109.7"/><rect x="187.0" y="109.8"/><rect x="154.2" y="122.8"/><rect x="236.0" y="96.0"/><rect x="139.5" y="89.1"/><rect x="171.8" y="72.1"/><rect x="190.9" y="122.4"/><rect x="143.1" y="95.2"/><rect x="186.5" y="73.1"/><rect x="125.4" y="156.3"/><rect x="178.9" y="163.7"/><rect x="198.9" y="104.8"/><rect x="221.8" y="140.2"/><rect x="218.5" y="101.9"/><rect x="198.9" y="97.7"/><rect x="135.9" y="150.5"/><rect x="173.1" y="127.7"/><rect x="216.4" y="104.7"/><rect x="144.4" y="94.6"/><rect x="235.6" y="131.5"/><rect x="258.0" y="151.5"/><rect x="161.9" y="147.4"/><rect x="230.0" y="99.1"/><rect x="181.2" y="146.9"/><rect x="189.0" y="184.6"/><rect x="166.9" y="173.3"/><rect x="248.6" y="171.3"/><rect x="207.2" y="79.4"/><rect x="241.2" y="141.1"/><rect x="150.3" y="119.7"/><rect x="267.4" y="149.7"/><rect x="216.0" y="147.9"/><rect x="123.2" y="153.7"/><rect x="258.5" y="91.8"/><rect x="187.1" y="53.0"/><rect x="159.6" y="118.6"/><rect x="152.8" y="158.4"/><rect x="183.9" y="124.8"/><rect x="256.5" y="143.2"/><rect x="265.7" y="141.2"/><rect x="147.0" y="161.5"/><rect x="206.5" y="78.9"/><rect x="150.2" y="151.0"/><rect x="141.6" y="121.5"/><rect x="184.9" y="164.9"/><rect x="188.8" y="194.7"/><rect x="205.1" y="124.0"/><rect x="191.5" y="117.8"/><rect x="240.1" y="159.1"/><rect x="211.7" y="141.5"/><rect x="147.1" y="136.0"/><rect x="184.4" y="115.9"/><rect x="234.4" y="153.9"/><rect x="198.9" y="50.6"/><rect x="207.6" y="167.9"/><rect x="189.1" y="121.9"/><rect x="159.0" y="186.8"/><rect x="177.5" y="143.8"/><rect x="224.2" y="77.7"/><rect x="119.7" y="148.1"/><rect x="210.2" y="94.5"/><rect x="154.8" y="163.5"/><rect x="252.4" y="112.7"/><rect x="180.6" y="151.1"/><rect x="231.6" y="124.2"/><rect x="228.1" y="164.0"/><rect x="168.3" y="131.0"/><rect x="157.7" y="190.6"/><rect x="161.8" y="101.2"/><rect x="249.8" y="146.8"/><rect x="140.9" y="161.4"/><rect x="153.4" y="104.1"/><rect x="163.5" y="178.9"/><rect x="268.4" y="137.0"/><rect x="243.8" y="94.8"/><rect x="175.6" y="90.3"/><rect x="187.3" y="86.7"/><rect x="193.3" y="138.4"/><rect x="214.2" y="178.1"/><rect x="242.8" y="123.9"/><rect x="186.3" y="138.4"/><rect x="283.3" y="104.6"/><rect x="202.4" y="100.0"/><rect x="225.9" y="106.3"/><rect x="248.7" y="151.5"/><rect x="240.5" y="119.0"/><rect x="176.9" y="118.0"/><rect x="278.4" y="121.9"/><rect x="263.7" y="143.0"/><rect x="150.4" y="123.4"/><rect x="212.5" y="141.3"/><rect x="118.1" y="123.6"/><rect x="131.1" y="145.7"/><rect x="265.4" y="129.6"/><rect x="215.7" y="158.4"/><rect x="276.8" y="130.5"/><rect x="179.6" y="169.2"/><rect x="198.3" y="98.3"/><rect x="259.4" y="154.6"/><rect x="193.6" y="136.3"/><rect x="178.6" y="121.5"/><rect x="168.4" y="155.6"/><rect x="265.8" y="150.1"/><rect x="194.6" y="132.8"/><rect x="164.5" y="123.9"/><rect x="221.9" y="104.7"/><rect x="278.1" y="111.3"/><rect x="193.7" y="144.2"/><rect x="122.6" y="126.5"/><rect x="283.7" y="133.7"/><rect x="264.0" y="88.5"/><rect x="209.6" y="117.4"/><rect x="189.4" y="170.8"/><rect x="202.5" y="61.1"/><rect x="252.0" y="160.1"/><rect x="210.8" y="151.4"/><rect x="187.6" y="88.4"/><rect x="135.2" y="180.1"/><rect x="196.1" y="169.1"/><rect x="156.5" y="132.8"/><rect x="122.9" y="106.1"/><rect x="161.5" y="179.6"/><rect x="249.6" y="111.4"/><rect x="201.4" y="90.1"/><rect x="192.5" y="115.7"/><rect x="131.2" y="104.0"/><rect x="182.6" y="129.5"/><rect x="162.1" y="62.8"/><rect x="211.7" y="138.1"/><rect x="285.0" y="120.7"/><rect x="204.0" y="116.2"/><rect x="255.2" y="129.9"/><rect x="217.4" y="104.3"/><rect x="173.2" y="79.3"/><rect x="263.0" y="95.3"/><rect x="156.0" y="98.6"/><rect x="191.5" y="102.5"/><rect x="139.1" y="131.9"/><rect x="139.8" y="155.7"/><rect x="261.8" y="153.1"/><rect x="197.2" y="118.2"/><rect x="244.9" y="106.1"/><rect x="139.9" y="129.0"/><rect x="158.2" y="123.6"/><rect x="127.5" y="149.3"/><rect x="189.7" y="104.5"/><rect x="208.2" y="89.4"/><rect x="208.8" y="197.9"/><rect x="133.8" y="147.6"/><rect x="193.1" y="171.6"/><rect x="157.5" y="100.8"/><rect x="251.4" y="115.4"/><rect x="155.0" y="178.7"/><rect x="234.2" y="83.9"/><rect x="246.4" y="110.0"/><rect x="277.5" y="151.7"/><rect x="115.5" y="140.6"/><rect x="181.9" y="56.1"/><rect x="270.0" y="142.3"/><rect x="254.1" y="150.2"/><rect x="162.1" y="102.7"/><rect x="133.1" y="111.1"/><rect x="240.1" y="102.2"/><rect x="206.3" y="105.5"/><rect x="115.6" y="130.4"/><rect x="153.3" y="141.8"/><rect x="177.6" y="128.2"/><rect x="217.1" y="119.9"/><rect x="270.4" y="125.6"/><rect x="166.6" y="143.2"/><rect x="176.5" y="168.6"/><rect x="163.9" y="150.4"/><rect x="167.6" y="121.1"/><rect x="253.2" y="123.9"/><rect x="228.4" y="104.3"/><rect x="161.3" y="156.0"/><rect x="223.7" y="98.2"/><rect x="213.2" y="99.8"/><rect x="179.4" y="73.8"/><rect x="207.9" y="102.9"/><rect x="273.3" y="155.6"/><rect x="177.7" y="161.9"/><rect x="244.1" y="131.3"/><rect x="136.6" y="145.7"/><rect x="169.3" y="109.0"/><rect x="201.4" y="105.5"/><rect x="170.4" y="54.6"/><rect x="187.9" y="143.7"/><rect x="259.4" y="118.9"/><rect x="228.0" y="145.7"/><rect x="220.5" y="133.5"/><rect x="232.0" y="112.4"/><rect x="133.8" y="92.3"/><rect x="162.2" y="195.8"/><rect x="200.7" y="97.2"/><rect x="149.9" y="137.7"/><rect x="253.8" y="104.6"/><rect x="209.1" y="110.5"/><rect x="283.5" y="110.9"/><rect x="278.5" y="124.6"/><rect x="228.0" y="71.9"/><rect x="167.0" y="187.4"/><rect x="250.5" y="92.7"/><rect x="239.5" y="152.6"/><rect x="216.3" y="77.5"/><rect x="128.2" y="127.0"/><rect x="152.0" y="190.4"/><rect x="238.0" y="86.8"/><rect x="142.1" y="134.7"/><rect x="177.4" y="136.9"/><rect x="146.4" y="112.5"/><rect x="204.8" y="102.9"/><rect x="188.8" y="104.2"/><rect x="123.8" y="148.6"/><rect x="276.3" y="148.0"/><rect x="146.5" y="92.7"/><rect x="167.9" y="92.4"/><rect x="284.2" y="125.4"/><rect x="132.2" y="122.6"/><rect x="176.2" y="94.3"/><rect x="142.8" y="128.1"/><rect x="158.2" y="192.9"/><rect x="163.0" y="142.8"/><rect x="125.6" y="112.8"/><rect x="233.6" y="127.9"/><rect x="219.0" y="128.8"/><rect x="149.8" y="109.6"/><rect x="257.9" y="158.1"/><rect x="260.5" y="92.7"/><rect x="167.6" y="151.5"/><rect x="178.6" y="57.9"/><rect x="158.9" y="69.8"/><rect x="276.6" y="140.1"/><rect x="254.9" y="124.0"/><rect x="269.1" y="118.9"/><rect x="163.1" y="71.6"/><rect x="236.0" y="109.2"/><rect x="192.9" y="146.8"/><rect x="205.0" y="147.6"/><rect x="204.6" y="112.0"/><rect x="201.8" y="165.4"/><rect x="124.4" y="123.1"/><rect x="134.5" y="136.6"/><rect x="158.0" y="94.4"/><rect x="247.3" y="82.5"/><rect x="242.8" y="112.7"/><rect x="190.4" y="179.2"/><rect x="128.5" y="144.7"/><rect x="199.8" y="125.9"/><rect x="231.2" y="120.0"/><rect x="218.5" y="168.6"/><rect x="184.9" y="158.8"/><rect x="153.9" y="105.5"/><rect x="138.8" y="111.5"/><rect x="206.6" y="173.9"/><rect x="218.3" y="131.4"/><rect x="284.8" y="141.4"/><rect x="238.9" y="151.6"/><rect x="128.9" y="152.0"/><rect x="189.9" y="73.9"/><rect x="244.6" y="91.2"/><rect x="198.3" y="142.1"/><rect x="252.7" y="122.8"/><rect x="263.8" y="99.0"/><rect x="167.8" y="183.7"/><rect x="173.6" y="118.7"/><rect x="187.7" y="47.0"/><rect x="148.2" y="105.7"/><rect x="152.7" y="132.0"/><rect x="257.6" y="115.7"/><rect x="201.5" y="154.7"/><rect x="213.4" y="185.7"/><rect x="218.6" y="156.1"/><rect x="217.7" y="86.9"/><rect x="178.4" y="91.7"/><rect x="118.6" y="132.8"/><rect x="209.1" y="142.9"/><rect x="128.8" y="96.6"/><rect x="173.4" y="132.7"/><rect x="265.8" y="104.1"/><rect x="199.4" y="144.2"/><rect x="200.2" y="53.0"/><rect x="207.8" y="127.2"/><rect x="258.7" y="148.6"/><rect x="262.4" y="132.0"/><rect x="174.0" y="143.2"/><rect x="282.3" y="117.7"/><rect x="194.3" y="69.1"/><rect x="266.5" y="153.4"/><rect x="161.7" y="88.6"/><rect x="228.3" y="129.8"/><rect x="210.3" y="99.2"/><rect x="213.6" y="65.9"/><rect x="213.3" y="103.3"/><rect x="258.7" y="110.9"/><rect x="230.7" y="109.8"/><rect x="261.4" y="107.4"/><rect x="202.1" y="185.3"/><rect x="175.1" y="103.5"/><rect x="267.9" y="125.8"/><rect x="127.6" y="107.1"/><rect x="120.3" y="125.4"/><rect x="220.3" y="107.1"/><rect x="258.7" y="131.7"/><rect x="129.8" y="154.4"/><rect x="180.8" y="154.9"/><rect x="176.3" y="74.3"/><rect x="119.8" y="142.4"/><rect x="186.0" y="66.9"/><rect x="197.2" y="67.4"/><rect x="161.2" y="132.4"/><rect x="248.9" y="138.4"/><rect x="282.0" y="109.1"/><rect x="179.6" y="175.4"/><rect x="226.4" y="138.3"/><rect x="235.9" y="168.4"/><rect x="134.0" y="150.7"/><rect x="276.8" y="138.0"/><rect x="144.3" y="184.2"/><rect x="247.1" y="153.3"/><rect x="173.2" y="115.1"/><rect x="181.8" y="89.6"/><rect x="240.1" y="108.5"/><rect x="209.2" y="74.2"/><rect x="184.5" y="102.8"/><rect x="253.1" y="86.5"/><rect x="253.4" y="133.8"/><rect x="231.6" y="82.3"/><rect x="166.8" y="123.1"/><rect x="265.1" y="111.3"/><rect x="207.0" y="186.7"/><rect x="213.3" y="95.6"/><rect x="214.8" y="109.3"/><rect x="267.8" y="101.0"/><rect x="191.5" y="139.5"/><rect x="214.0" y="115.5"/><rect x="223.5" y="147.8"/><rect x="213.1" y="134.8"/><rect x="160.5" y="143.0"/><rect x="278.5" y="127.9"/><rect x="270.1" y="149.4"/><rect x="215.7" y="108.6"/><rect x="167.9" y="133.8"/><rect x="173.5" y="133.1"/><rect x="121.4" y="129.4"/><rect x="122.1" y="137.7"/><rect x="257.8" y="145.7"/><rect x="146.5" y="146.1"/><rect x="190.1" y="147.7"/><rect x="193.9" y="97.4"/><rect x="151.5" y="70.1"/><rect x="272.4" y="156.1"/><rect x="203.3" y="136.1"/><rect x="222.4" y="87.7"/><rect x="166.4" y="138.8"/><rect x="175.0" y="154.8"/><rect x="193.6" y="56.4"/></g>
<clipPath id="a1"><rect x="472.5" y="37.5" width="275.8" height="230.8"/></clipPath>
<clipPath id="o1"><path clip-rule="evenodd" d="M442.5 7.5H778.3V298.3H442.5zM472.5 61.01H748.3V90.21H472.5z"/></clipPath>
<clipPath id="n1"><rect x="472.5" y="61.01" width="275.8" height="29.19"/></clipPath>
<g id="m1" class="mk"><rect x="608.8" y="57.5"/><rect x="597.3" y="96.4"/><rect x="650.9" y="79.3"/><rect x="618.3" y="61.2"/><rect x="699.1" y="78.0"/><rect x="657.7" y="45.9"/><rect x="572.8" y="67.2"/><rect x="582.7" y="97.6"/><rect x="696.4" y="58.6"/><rect x="590.8" y="96.2"/><rect x="658.6" y="85.9"/><rect x="660.0" y="63.7"/><rect x="642.3" y="95.3"/><rect x="698.2" y="68.5"/><rect x="621.2" y="79.1"/><rect x="611.6" y="94.5"/><rect x="571.5" y="93.1"/><rect x="592.5" y="63.9"/><rect x="530.9" y="158.8"/><rect x="605.9" y="81.2"/><rect x="674.6" y="58.8"/><rect x="576.2" y="75.0"/><rect x="631.0" y="70.0"/><rect x="615.2" y="86.7"/><rect x="609.5" y="73.5"/><rect x="582.1" y="70.3"/><rect x="650.7" y="42.9"/><rect x="638.4" y="65.7"/><rect x="602.7" y="87.8"/><rect x="579.0" y="100.8"/><rect x="640.0" y="83.6"/><rect x="648.5" y="75.6"/><rect x="596.6" y="135.2"/><rect x="680.7" y="75.4"/><rect x="632.4" y="67.5"/><rect x="698.3" y="60.7"/><rect x="613.2" y="61.1"/><rect x="617.2" y="69.6"/><rect x="644.2" y="74.3"/><rect x="678.0" y="85.3"/><rect x="658.4" y="76.1"/><rect x="570.3" y="73.8"/><rect x="569.6" y="85.7"/><rect x="657.7" y="96.3"/><rect x="693.2" y="70.6"/><rect x="597.1" y="66.3"/><rect x="638.0" y="62.4"/><rect x="567.8" y="68.2"/><rect x="605.6" y="75.2"/><rect x="564.2" y="72.2"/><rect x="634.2" y="102.2"/><rect x="555.4" y="122.0"/><rect x="655.8" y="40.4"/><rect x="657.2" y="72.6"/><rect x="670.0" y="91.6"/><rect x="591.7" y="82.3"/><rect x="664.0" y="51.4"/><rect x="611.1" y="63.2"/><rect x="703.7" y="71.9"/><rect x="618.4" y="129.7"/><rect x="660.0" y="71.7"/><rect x="587.9" y="77.7"/><rect x="672.3" y="84.9"/><rect x="700.1" y="62.9"/><rect x="638.7" y="71.5"/><rect x="673.8" y="72.2"/><rect x="595.9" y="59.9"/><rect x="578.0" y="112.4"/><rect x="627.3" y="97.7"/><rect x="691.7" y="66.7"/><rect x="572.2" y="83.1"/><rect x="619.1" y="47.5"/><rect x="635.5" y="74.6"/><rect x="681.7" y="62.5"/><rect x="606.2" y="70.7"/><rect x="570.1" y="94.5"/><rect x="572.9" y="145.8"/><rect x="627.1" y="63.7"/><rect x="589.1" y="80.8"/><rect x="642.9" y="61.8"/><rect x="601.6" y="99.8"/><rect x="658.2" y="79.0"/><rect x="642.8" y="76.0"/><rect x="572.3" y="83.0"/><rect x="614.1" y="80.8"/><rect x="678.0" y="70.2"/><rect x="595.1" y="79.4"/><rect x="635.4" y="61.7"/><rect x="625.9" y="84.4"/><rect x="648.0" y="94.0"/><rect x="642.7" y="85.0"/><rect x="568.6" y="86.1"/><rect x="675.1" y="65.4"/><rect x="605.4" y="100.9"/><rect x="594.4" y="70.0"/><rect x="572.6" y="77.1"/><rect x="620.4" y="75.7"/><rect x="646.6" y="34.2"/><rect x="662.9" y="89.1"/><rect x="608.4" y="85.6"/><rect x="660.2" y="64.8"/><rect x="666.4" y="81.5"/><rect x="649.1" y="62.7"/><rect x="647.3" y="41.6"/><rect x="633.1" y="77.6"/><rect x="665.9" y="66.5"/><rect x="633.2" y="61.0"/><rect x="585.7" y="110.2"/><rect x="592.7" y="71.5"/><rect x="655.0" y="90.7"/><rect x="558.4" y="90.3"/><rect x="567.1" y="81.4"/><rect x="601.3" y="65.2"/><rect x="624.5" y="51.5"/><rect x="628.6" y="47.7"/><rect x="600.3" y="110.5"/><rect x="675.5" y="72.3"/><rect x="617.2" y="79.2"/><rect x="556.8" y="152.8"/><rect x="581.3" y="88.2"/><rect x="662.5" y="61.2"/><rect x="657.6" y="55.2"/><rect x="592.2" y="86.7"/><rect x="603.9" y="57.8"/><rect x="599.4" y="67.9"/><rect x="619.4" y="62.7"/><rect x="630.5" y="53.5"/><rect x="607.1" y="84.4"/><rect x="667.8" y="75.2"/><rect x="641.4" y="56.3"/><rect x="554.0" y="82.1"/><rect x="620.9" y="81.4"/><rect x="584.5" y="75.6"/><rect x="579.8" y="82.5"/><rect x="668.4" y="79.0"/><rect x="578.6" y="73.3"/><rect x="684.9" y="47.8"/><rect x="618.9" y="89.2"/><rect x="637.1" y="58.7"/><rect x="661.3" y="79.7"/><rect x="664.9" y="70.9"/><rect x="603.2" y="47.0"/><rect x="690.6" y="70.9"/><rect x="626.6" y="63.3"/><rect x="609.0" y="67.8"/><rect x="659.0" y="83.8"/><rect x="601.4" y="105.5"/><rect x="596.6" y="75.2"/><rect x="590.1" y="93.0"/><rect x="645.2" y="83.6"/><rect x="618.3" y="56.5"/><rect x="650.9" y="49.9"/><rect x="692.4" y="50.2"/><rect x="630.9" y="46.4"/><rect x="627.2" y="45.7"/><rect x="643.1" y="70.8"/><rect x="693.2" y="80.3"/><rect x="592.2" y="86.8"/><rect x="572.0" y="146.6"/><rect x="606.6" y="78.3"/><rect x="600.9" y="86.2"/><rect x="635.1" y="72.9"/><rect x="603.2" y="94.8"/><rect x="688.6" y="41.8"/><rect x="557.4" y="156.4"/><rect x="592.8" y="100.0"/><rect x="619.9" y="93.9"/><rect x="616.7" y="70.0"/><rect x="669.1" y="81.4"/><rect x="681.8" y="56.9"/><rect x="607.6" y="87.5"/><rect x="627.1" y="53.0"/><rect x="665.9" y="78.5"/><rect x="628.2" y="69.2"/><rect x="643.8" y="93.6"/><rect x="658.8" y="59.5"/><rect x="642.1" y="86.1"/><rect x="681.9" y="71.8"/><rect x="681.2" y="68.3"/><rect x="699.9" y="56.7"/><rect x="637.7" y="77.0"/><rect x="577.0" y="82.9"/><rect x="506.2" y="208.8"/><rect x="591.4" y="65.6"/><rect x="690.7" y="60.0"/><rect x="621.6" y="50.3"/><rect x="650.0" y="81.9"/><rect x="612.4" y="86.8"/><rect x="687.2" y="46.7"/><rect x="634.5" y="47.1"/><rect x="556.8" y="213.6"/><rect x="680.5" y="56.0"/><rect x="635.6" y="52.8"/><rect x="653.4" y="54.1"/><rect x="688.9" y="76.0"/><rect x="616.5" y="76.1"/><rect x="682.2" y="80.1"/><rect x="640.3" y="63.6"/><rect x="564.6" y="82.8"/><rect x="660.2" y="75.7"/><rect x="630.7" y="88.3"/><rect x="623.4" y="91.6"/><rect x="678.1" y="61.0"/><rect x="584.0" y="90.1"/><rect x="613.0" y="67.4"/><rect x="667.8" y="84.0"/><rect x="647.1" y="60.4"/><rect x="699.0" y="79.7"/><rect x="663.7" y="80.1"/><rect x="651.9" y="68.5"/><rect x="567.0" y="160.6"/><rect x="643.0" y="66.0"/><rect x="626.9" y="86.8"/><rect x="594.9" y="71.7"/><rect x="580.9" y="124.2"/><rect x="639.0" y="57.6"/><rect x="598.7" y="78.2"/><rect x="694.5" y="77.2"/><rect x="581.9" y="78.6"/><rect x="666.8" y="54.4"/><rect x="646.5" y="66.4"/><rect x="601.0" y="81.6"/><rect x="628.0" y="73.7"/><rect x="641.2" y="50.9"/><rect x="694.1" y="77.9"/><rect x="653.5" y="69.4"/><rect x="682.7" y="46.3"/><rect x="651.5" y="40.6"/><rect x="560.3" y="77.8"/><rect x="601.5" y="74.3"/><rect x="611.5" y="79.3"/><rect x="622.7" y="74.1"/><rect x="649.9" y="54.6"/><rect x="635.1" y="58.1"/><rect x="670.6" y="60.8"/><rect x="688.7" y="60.6"/><rect x="640.7" y="40.1"/><rect x="665.8" y="47.3"/><rect x="625.2" y="81.6"/><rect x="686.0" y="59.8"/><rect x="576.5" y="142.2"/><rect x="647.9" y="62.1"/><rect x="655.8" y="81.4"/><rect x="610.4" y="64.5"/><rect x="679.1" y="78.9"/><rect x="700.7" y="60.9"/><rect x="600.0" y="73.7"/><rect x="573.5" y="88.5"/><rect x="697.2" y="65.8"/><rect x="560.5" y="137.8"/><rect x="703.2" y="69.0"/><rect x="576.2" y="122.0"/><rect x="684.3" y="61.9"/><rect x="690.3" y="82.5"/><rect x="612.5" y="69.7"/><rect x="614.0" y="119.0"/><rect x="644.9" y="57.9"/><rect x="645.9" y="74.2"/><rect x="581.1" y="70.1"/><rect x="610.4" y="61.5"/><rect x="635.2" y="65.0"/><rect x="632.5" y="61.2"/><rect x="686.0" y="71.8"/><rect x="580.1" y="78.7"/><rect x="631.9" y="56.5"/><rect x="606.5" y="59.4"/><rect x="668.5" y="57.8"/><rect x="666.3" y="69.7"/><rect x="692.4" y="63.4"/><rect x="540.5" y="96.0"/><rect x="626.6" y="119.8"/><rect x="630.0" y="120.0"/><rect x="572.0" y="129.6"/><rect x="669.7" y="70.4"/><rect x="647.8" y="88.5"/><rect x="570.0" y="80.3"/><rect x="642.5" y="89.6"/><rect x="566.7" y="67.0"/><rect x="562.7" y="68.0"/><rect x="666.3" y="38.8"/><rect x="613.1" y="103.5"/><rect x="671.0" y="73.6"/><rect x="604.3" y="54.3"/><rect x="638.3" y="83.2"/><rect x="609.3" y="54.3"/><rect x="583.5" y="81.8"/><rect x="645.5" y="53.3"/><rect x="675.4" y="45.9"/><rect x="624.7" y="79.6"/><rect x="696.7" y="67.0"/><rect x="574.2" y="69.6"/><rect x="588.8" y="110.3"/><rect x="586.2" y="104.8"/><rect x="580.0" y="92.6"/><rect x="660.4" y="34.2"/><rect x="637.2" y="89.2"/><rect x="697.4" y="75.4"/><rect x="672.9" y="83.5"/><rect x="584.0" y="85.0"/><rect x="632.2" y="39.6"/><rect x="626.3" y="57.5"/><rect x="581.4" y="86.5"/><rect x="627.2" y="85.1"/><rect x="565.0" y="110.8"/><rect x="558.9" y="75.0"/><rect x="632.3" y="97.7"/><rect x="576.5" y="68.4"/><rect x="678.0" y="64.3"/><rect x="618.5" y="128.7"/><rect x="699.4" y="72.4"/><rect x="672.6" y="56.8"/><rect x="623.4" y="65.1"/><rect x="690.1" y="50.0"/><rect x="592.5" y="60.2"/><rect x="575.7" y="106.2"/><rect x="618.6" y="85.6"/><rect x="632.8" y="62.1"/><rect x="627.2" y="79.7"/><rect x="694.1" y="73.7"/><rect x="638.3" y="79.7"/><rect x="682.2" y="61.5"/><rect x="576.9" y="88.0"/><rect x="572.4" y="99.8"/><rect x="689.6" y="85.0"/><rect x="547.1" y="136.8"/><rect x="653.5" y="77.2"/><rect x="674.7" y="93.1"/><rect x="567.3" y="67.3"/><rect x="701.2" y="62.5"/><rect x="661.2" y="69.9"/><rect x="590.2" y="87.0"/><rect x="618.8" y="65.9"/><rect x="588.1" y="84.1"/><rect x="620.7" y="61.3"/><rect x="659.6" y="45.2"/><rect x="596.2" y="111.8"/><rect x="588.3" y="68.4"/><rect x="636.9" y="85.0"/><rect x="646.0" y="84.1"/><rect x="554.8" y="79.4"/><rect x="649.8" y="43.3"/><rect x="572.6" y="130.2"/><rect x="612.7" y="88.0"/><rect x="589.7" y="113.4"/><rect x="650.8" y="84.4"/><rect x="702.5" y="75.6"/><rect x="564.5" y="89.7"/><rect x="574.6" y="84.6"/><rect x="647.9" y="38.8"/><rect x="602.4" y="105.8"/><rect x="639.7" y="44.1"/><rect x="675.0" y="76.2"/><rect x="690.2" y="73.0"/><rect x="675.2" y="57.2"/><rect x="663.8" y="45.0"/><rect x="616.0" y="88.6"/><rect x="604.2" y="63.1"/><rect x="615.1" y="60.2"/><rect x="627.5" y="65.6"/><rect x="608.5" y="106.2"/><rect x="560.2" y="86.8"/><rect x="634.8" y="70.7"/><rect x="687.5" y="78.6"/><rect x="584.4" y="92.0"/><rect x="582.6" y="118.0"/><rect x="655.2" y="60.2"/><rect x="596.9" y="58.2"/><rect x="685.9" y="69.1"/><rect x="670.7" y="53.2"/><rect x="562.2" y="84.9"/><rect x="670.5" y="90.5"/><rect x="657.1" y="52.5"/><rect x="669.3" y="85.0"/><rect x="623.9" y="60.5"/><rect x="608.1" y="97.2"/><rect x="600.4" y="95.6"/><rect x="571.2" y="71.1"/><rect x="582.6" y="112.9"/><rect x="560.1" y="83.8"/><rect x="589.0" y="101.1"/><rect x="681.2" y="50.8"/><rect x="677.0" y="40.9"/><rect x="578.4" y="80.3"/><rect x="645.7" y="47.4"/><rect x="623.8" y="121.7"/><rect x="662.6" y="81.7"/><rect x="649.9" y="72.5"/><rect x="648.1" y="94.9"/><rect x="688.7" y="54.1"/><rect x="651.1" y="59.1"/><rect x="666.2" y="71.6"/><rect x="586.5" y="133.2"/><rect x="605.0" y="64.8"/><rect x="553.2" y="73.8"/><rect x="668.9" y="63.9"/><rect x="673.5" y="50.4"/><rect x="593.1" y="92.0"/><rect x="688.1" y="65.9"/><rect x="557.7" y="83.5"/><rect x="591.8" y="60.6"/><rect x="556.5" y="78.1"/><rect x="560.4" y="76.9"/><rect x="639.5" y="60.4"/><rect x="631.6" y="82.2"/><rect x="588.3" y="74.7"/><rect x="661.7" y="57.4"/><rect x="663.2" y="38.8"/><rect x="677.5" y="64.1"/><rect x="648.5" y="70.7"/><rect x="639.1" y="91.0"/><rect x="673.1" y="63.1"/><rect x="610.2" y="51.4"/><rect x="662.9" y="74.8"/><rect x="670.7" y="67.4"/><rect x="559.6" y="69.1"/><rect x="662.1" y="52.3"/><rect x="607.5" y="80.7"/><rect x="612.4" y="72.4"/><rect x="549.1" y="157.3"/><rect x="641.5" y="88.5"/><rect x="624.0" y="73.0"/><rect x="619.2" y="72.2"/><rect x="654.5" y="62.5"/><rect x="626.5" y="76.3"/><rect x="627.3" y="83.6"/><rect x="588.0" y="153.3"/><rect x="624.6" y="89.9"/><rect x="601.4" y="84.4"/><rect x="631.0" y="77.2"/><rect x="591.2" y="73.8"/><rect x="656.1" y="97.2"/><rect x="679.8" y="67.8"/><rect x="642.3" y="65.1"/><rect x="621.9" y="106.2"/><rect x="637.3" y="39.7"/><rect x="680.0" y="47.4"/><rect x="610.6" y="81.0"/><rect x="566.7" y="79.1"/><rect x="649.4" y="47.1"/><rect x="694.9" y="52.1"/><rect x="604.1" y="78.6"/><rect x="597.8" y="87.0"/><rect x="683.0" y="65.2"/><rect x="624.3" y="68.8"/><rect x="603.1" y="93.1"/><rect x="595.9" y="85.1"/><rect x="593.6" y="127.1"/><rect x="594.6" y="78.2"/><rect x="632.2" y="73.4"/><rect x="588.5" y="90.6"/><rect x="623.6" y="100.5"/><rect x="576.2" y="140.8"/><rect x="590.4" y="80.3"/><rect x="650.5" y="55.3"/><rect x="657.5" y="48.0"/><rect x="616.3" y="77.8"/><rect x="625.1" y="120.3"/><rect x="655.4" y="73.4"/><rect x="677.6" y="79.8"/><rect x="691.9" y="71.8"/><rect x="629.0" y="93.4"/><rect x="617.0" y="64.1"/><rect x="600.0" y="77.3"/><rect x="676.6" y="68.1"/><rect x="614.4" y="119.5"/><rect x="580.1" y="72.7"/><rect x="594.1" y="126.6"/><rect x="587.8" y="66.6"/><rect x="607.3" y="71.2"/><rect x="584.3" y="73.5"/><rect x="676.6" y="83.5"/><rect x="621.6" y="84.2"/><rect x="685.1" y="67.0"/><rect x="586.5" y="72.9"/><rect x="654.6" y="56.5"/><rect x="681.7" y="85.1"/><rect x="590.3" y="104.0"/><rect x="639.4" y="49.9"/><rect x="593.9" y="75.6"/><rect x="565.0" y="78.4"/><rect x="640.8" y="79.8"/><rect x="629.0" y="57.2"/><rect x="596.1" y="92.7"/><rect x="601.4" y="56.1"/><rect x="610.1" y="74.8"/><rect x="615.8" y="67.9"/><rect x="652.2" y="100.3"/><rect x="669.4" y="89.0"/><rect x="686.8" y="57.9"/><rect x="664.0" y="67.7"/><rect x="702.1" y="71.6"/><rect x="690.7" y="43.4"/><rect x="667.2" y="60.6"/><rect x="644.7" y="100.9"/><rect x="614.3" y="96.5"/><rect x="585.5" y="76.6"/><rect x="657.4" y="68.8"/><rect x="662.1" y="84.2"/><rect x="665.7" y="58.0"/><rect x="620.9" y="69.3"/><rect x="574.5" y="106.9"/><rect x="644.8" y="61.1"/><rect x="586.3" y="111.9"/><rect x="677.7" y="84.9"/><rect x="651.6" y="77.0"/><rect x="691.4" y="52.9"/><rect x="658.7" y="42.3"/><rect x="653.2" y="107.2"/><rect x="620.0" y="74.7"/><rect x="667.7" y="64.7"/><rect x="635.8" y="84.2"/><rect x="679.3" y="71.6"/><rect x="657.4" y="64.3"/><rect x="584.2" y="114.0"/><rect x="664.1" y="57.1"/><rect x="666.6" y="95.8"/><rect x="593.8" y="67.0"/><rect x="598.9" y="62.6"/><rect x="581.4" y="124.0"/><rect x="639.9" y="77.3"/><rect x="690.3" y="63.9"/><rect x="648.4" y="80.6"/><rect x="660.5" y="85.5"/><rect x="568.5" y="93.1"/><rect x="562.3" y="71.7"/><rect x="704.5" y="66.3"/><rect x="575.5" y="121.7"/><rect x="622.3" y="62.8"/><rect x="640.7" y="72.9"/><rect x="550.8" y="136.8"/><rect x="560.0" y="128.7"/><rect x="603.6" y="70.0"/><rect x="609.6" y="69.9"/><rect x="656.1" y="67.2"/><rect x="574.5" y="71.5"/><rect x="613.0" y="54.1"/><rect x="653.8" y="67.6"/><rect x="586.1" y="68.8"/><rect x="561.3" y="70.8"/><rect x="680.5" y="90.8"/><rect x="672.8" y="70.9"/><rect x="666.4" y="48.0"/><rect x="663.1" y="71.8"/><rect x="603.8" y="77.4"/><rect x="653.3" y="86.3"/><rect x="685.8" y="76.4"/><rect x="699.5" y="57.7"/><rect x="679.2" y="81.5"/><rect x="600.4" y="91.6"/><rect x="577.1" y="100.6"/><rect x="579.1" y="103.8"/><rect x="652.0" y="90.2"/><rect x="672.3" y="67.0"/><rect x="674.6" y="76.9"/><rect x="585.3" y="101.4"/><rect x="648.5" y="81.2"/><rect x="600.3" y="90.7"/><rect x="577.3" y="91.4"/><rect x="651.9" y="91.4"/><rect x="623.0" y="57.0"/><rect x="696.4" y="68.7"/><rect x="627.9" y="58.8"/><rect x="651.9" y="67.9"/><rect x="581.3" y="95.2"/><rect x="677.4" y="61.1"/><rect x="632.8" y="78.9"/><rect x="586.9" y="81.7"/><rect x="678.3" y="45.4"/><rect x="640.0" y="107.2"/><rect x="631.0" y="85.9"/><rect x="579.5" y="108.9"/><rect x="638.4" y="68.0"/><rect x="617.9" y="100.9"/><rect x="598.9" y="71.0"/><rect x="684.0" y="50.8"/><rect x="682.8" y="76.4"/><rect x="596.3" y="62.0"/><rect x="628.3" y="76.0"/><rect x="609.4" y="94.4"/><rect x="702.3" y="67.3"/><rect x="678.7" y="87.0"/><rect x="677.2" y="49.5"/><rect x="618.1" y="80.8"/><rect x="601.6" y="108.0"/><rect x="686.1" y="85.8"/><rect x="589.0" y="106.3"/><rect x="667.5" y="98.8"/><rect x="684.6" y="81.0"/><rect x="601.8" y="81.1"/><rect x="675.9" y="92.5"/><rect x="562.5" y="108.2"/><rect x="607.2" y="64.7"/><rect x="690.7" y="74.9"/><rect x="581.1" y="123.8"/><rect x="571.6" y="77.4"/><rect x="635.6" y="98.1"/><rect x="653.8" y="79.7"/><rect x="641.6" y="68.4"/><rect x="642.9" y="78.9"/><rect x="545.1" y="94.5"/><rect x="610.8" y="83.1"/><rect x="688.2" y="58.2"/><rect x="640.8" y="96.5"/><rect x="672.2" y="79.0"/><rect x="557.0" y="86.0"/><rect x="566.0" y="77.0"/><rect x="554.2" y="76.1"/><rect x="653.7" y="83.3"/><rect x="588.3" y="97.4"/><rect x="642.9" y="40.9"/><rect x="596.8" y="68.8"/><rect x="686.7" y="79.9"/><rect x="623.6" y="48.9"/><rect x="579.0" y="77.2"/><rect x="569.0" y="71.2"/><rect x="602.5" y="60.2"/><rect x="631.2" y="47.0"/><rect x="683.9" y="83.7"/><rect x="670.8" y="76.8"/><rect x="587.6" y="64.5"/><rect x="660.3" y="50.4"/><rect x="634.4" y="80.8"/><rect x="574.9" y="77.8"/><rect x="695.8" y="56.2"/><rect x="612.1" y="74.5"/><rect x="646.3" y="57.8"/><rect x="568.6" y="87.0"/><rect x="657.4" y="60.1"/><rect x="611.6" y="55.7"/><rect x="594.8" y="102.6"/><rect x="664.9" y="64.1"/><rect x="616.4" y="74.3"/><rect x="615.5" y="56.3"/><rect x="624.8" y="66.9"/><rect x="695.5" y="63.3"/><rect x="597.4" y="83.1"/><rect x="551.4" y="79.0"/><rect x="553.0" y="85.0"/><rect x="672.5" y="46.5"/><rect x="515.4" y="228.8"/><rect x="615.7" y="93.1"/><rect x="604.8" y="107.2"/><rect x="564.6" y="76.8"/><rect x="578.5" y="85.6"/><rect x="674.7" y="51.9"/></g>
<clipPath id="a2"><rect x="67.3" y="358.5" width="275.5" height="230.8"/></clipPath>
<clipPath id="o2"><path clip-rule="evenodd" d="M37.3 328.5H372.8V619.3H37.3zM67.3 498.97H342.8V521.87H67.3z"/></clipPath>
<clipPath id="n2"><rect x="67.3" y="498.97" width="275.5" height="22.90"/></clipPath>
<g id="m2" class="mk"><rect x="186.2" y="504.1"/><rect x="146.9" y="515.1"/><rect x="134.7" y="502.4"/><rect x="206.9" y="509.6"/><rect x="139.9" y="496.1"/><rect x="216.6" y="512.9"/><rect x="178.8" y="521.3"/><rect x="157.9" y="510.6"/><rect x="114.7" y="502.8"/><rect x="126.5" y="517.9"/><rect x="207.9" y="510.8"/><rect x="121.5" y="504.8"/><rect x="177.3" y="506.3"/><rect x="99.1" y="504.7"/><rect x="118.3" y="502.7"/><rect x="172.2" y="500.9"/><rect x="144.3" y="508.1"/><rect x="131.7" y="515.1"/><rect x="184.7" y="508.8"/><rect x="132.3" y="544.6"/><rect x="194.0" y="509.2"/><rect x="170.4" y="486.9"/><rect x="164.7" y="491.3"/><rect x="143.1" y="532.1"/><rect x="110.3" y="503.8"/><rect x="172.5" y="519.9"/><rect x="117.1" y="534.7"/><rect x="228.7" y="505.8"/><rect x="125.3" y="537.1"/><rect x="160.0" y="516.0"/><rect x="221.2" y="501.8"/><rect x="174.5" y="501.6"/><rect x="189.9" y="483.3"/><rect x="172.5" y="511.6"/><rect x="199.4" y="503.6"/><rect x="120.3" y="497.5"/><rect x="136.3" y="527.1"/><rect x="202.1" y="511.1"/><rect x="182.4" y="486.8"/><rect x="205.3" y="493.3"/><rect x="199.2" y="491.6"/><rect x="112.5" y="506.3"/><rect x="189.4" y="508.5"/><rect x="209.8" y="488.0"/><rect x="112.6" y="514.2"/><rect x="208.5" y="514.4"/><rect x="174.6" y="484.6"/><rect x="149.2" y="524.2"/><rect x="127.7" y="520.8"/><rect x="168.4" y="505.0"/><rect x="131.4" y="520.4"/><rect x="121.3" y="500.0"/><rect x="188.5" y="496.9"/><rect x="153.1" y="532.9"/><rect x="224.2" y="499.8"/><rect x="140.8" y="535.6"/><rect x="105.9" y="505.5"/><rect x="197.8" y="493.3"/><rect x="188.5" y="491.6"/><rect x="102.6" y="503.5"/><rect x="176.7" y="498.8"/><rect x="132.1" y="497.4"/><rect x="142.6" y="489.8"/><rect x="200.2" y="508.3"/><rect x="184.4" y="494.1"/><rect x="121.7" y="535.8"/><rect x="187.8" y="506.1"/><rect x="172.4" y="495.5"/><rect x="116.9" y="509.6"/><rect x="143.6" y="493.4"/><rect x="157.0" y="520.7"/><rect x="185.6" y="494.9"/><rect x="132.2" y="494.0"/><rect x="181.9" y="518.6"/><rect x="167.1" y="509.6"/><rect x="95.5" y="508.4"/><rect x="136.2" y="500.8"/><rect x="151.0" y="488.6"/><rect x="177.9" y="493.5"/><rect x="129.6" y="548.2"/><rect x="142.6" y="496.0"/><rect x="130.6" y="527.0"/><rect x="92.2" y="511.5"/><rect x="194.5" y="485.8"/><rect x="141.6" y="512.1"/><rect x="119.0" y="506.8"/><rect x="154.5" y="527.2"/><rect x="148.6" y="493.3"/><rect x="216.7" y="508.5"/><rect x="202.3" y="500.6"/><rect x="196.5" y="484.6"/><rect x="126.7" y="513.1"/><rect x="202.6" y="498.4"/><rect x="188.4" y="516.3"/><rect x="185.1" y="500.2"/><rect x="144.5" y="515.9"/><rect x="161.3" y="479.9"/><rect x="150.9" y="514.5"/><rect x="209.5" y="499.8"/><rect x="137.4" y="509.6"/><rect x="199.1" y="517.6"/><rect x="161.4" y="487.9"/><rect x="103.4" y="507.7"/><rect x="137.5" y="508.1"/><rect x="94.4" y="504.8"/><rect x="184.8" y="490.1"/><rect x="211.4" y="508.0"/><rect x="227.7" y="497.9"/><rect x="191.8" y="514.4"/><rect x="200.9" y="490.3"/><rect x="161.4" y="497.8"/><rect x="123.1" y="520.3"/><rect x="138.1" y="518.6"/><rect x="141.8" y="500.7"/><rect x="170.7" y="515.5"/><rect x="167.8" y="493.2"/><rect x="217.3" y="506.6"/><rect x="138.8" y="558.0"/><rect x="166.0" y="518.1"/><rect x="169.2" y="501.6"/><rect x="127.7" y="532.9"/><rect x="123.8" y="509.4"/><rect x="101.0" y="520.7"/><rect x="228.6" y="503.3"/><rect x="153.9" y="513.4"/><rect x="210.9" y="509.0"/><rect x="207.6" y="501.9"/><rect x="138.7" y="502.1"/><rect x="179.2" y="498.4"/><rect x="151.9" y="494.7"/><rect x="133.6" y="524.1"/><rect x="102.2" y="509.5"/><rect x="149.8" y="502.3"/><rect x="169.7" y="496.8"/><rect x="167.8" y="491.7"/><rect x="120.7" y="512.4"/><rect x="197.8" y="511.3"/><rect x="177.8" y="501.2"/><rect x="96.3" y="504.5"/><rect x="129.7" y="534.6"/><rect x="183.0" y="483.1"/><rect x="185.1" y="497.9"/><rect x="128.6" y="508.9"/><rect x="121.1" y="501.7"/><rect x="188.4" y="488.1"/><rect x="132.7" y="510.7"/><rect x="183.3" y="515.0"/><rect x="174.4" y="488.8"/><rect x="137.4" y="556.5"/><rect x="160.8" y="499.5"/><rect x="155.0" y="535.1"/><rect x="150.4" y="538.6"/><rect x="191.7" y="498.0"/><rect x="225.8" y="504.2"/><rect x="202.3" y="506.8"/><rect x="216.8" y="493.4"/><rect x="185.6" y="510.5"/><rect x="144.9" y="497.5"/><rect x="147.2" y="501.0"/><rect x="132.2" y="538.7"/><rect x="215.9" y="501.4"/><rect x="94.6" y="510.8"/><rect x="158.7" y="500.2"/><rect x="110.6" y="509.2"/><rect x="199.9" y="486.0"/><rect x="164.9" y="513.5"/><rect x="156.9" y="496.3"/><rect x="156.6" y="542.0"/><rect x="187.3" y="512.1"/><rect x="135.1" y="518.5"/><rect x="122.1" y="543.6"/><rect x="226.5" y="509.5"/><rect x="163.5" y="493.0"/><rect x="136.5" y="511.7"/><rect x="113.1" y="500.5"/><rect x="132.0" y="501.8"/><rect x="205.7" y="507.6"/><rect x="156.2" y="505.4"/><rect x="213.0" y="503.5"/><rect x="200.3" y="510.3"/><rect x="108.0" y="512.0"/><rect x="191.6" y="479.3"/><rect x="216.5" y="503.0"/><rect x="163.3" y="524.3"/><rect x="226.7" y="508.4"/><rect x="193.4" y="493.9"/><rect x="139.7" y="512.4"/><rect x="211.4" y="500.0"/><rect x="142.5" y="527.6"/><rect x="90.3" y="506.2"/><rect x="152.1" y="489.3"/><rect x="126.0" y="509.2"/><rect x="155.5" y="519.4"/><rect x="223.7" y="497.1"/><rect x="106.5" y="516.3"/><rect x="196.8" y="512.5"/><rect x="196.0" y="508.6"/><rect x="178.6" y="478.9"/><rect x="101.0" y="514.1"/><rect x="174.6" y="503.8"/><rect x="133.9" y="528.8"/><rect x="120.9" y="509.3"/><rect x="220.2" y="496.2"/><rect x="128.2" y="522.5"/><rect x="200.5" y="513.4"/><rect x="160.2" y="532.0"/><rect x="175.9" y="504.3"/><rect x="180.8" y="513.8"/><rect x="99.4" y="522.0"/><rect x="92.0" y="513.3"/><rect x="161.8" y="527.1"/><rect x="100.9" y="531.3"/><rect x="123.9" y="507.9"/><rect x="165.9" y="496.2"/><rect x="141.1" y="519.5"/><rect x="134.2" y="536.6"/><rect x="152.6" y="516.9"/><rect x="190.3" y="514.9"/><rect x="184.2" y="486.1"/><rect x="206.5" y="503.4"/><rect x="156.6" y="495.1"/><rect x="150.4" y="504.7"/><rect x="106.0" y="509.3"/><rect x="201.9" y="518.1"/><rect x="154.0" y="495.9"/><rect x="92.4" y="521.6"/><rect x="113.5" y="529.3"/><rect x="183.7" y="520.4"/><rect x="95.2" y="521.3"/><rect x="166.5" y="485.5"/><rect x="97.1" y="513.2"/><rect x="150.0" y="510.0"/><rect x="97.0" y="520.0"/><rect x="173.4" y="493.3"/><rect x="162.6" y="522.3"/><rect x="101.0" y="534.1"/><rect x="160.2" y="490.7"/><rect x="125.3" y="521.2"/><rect x="182.9" y="517.2"/><rect x="162.3" y="494.6"/><rect x="153.8" y="505.7"/><rect x="215.3" y="488.7"/><rect x="156.9" y="507.1"/><rect x="181.8" y="511.1"/><rect x="137.0" y="490.4"/><rect x="216.6" y="498.7"/><rect x="145.8" y="523.2"/><rect x="213.2" y="514.0"/><rect x="208.3" y="494.2"/><rect x="156.5" y="486.8"/><rect x="199.8" y="497.8"/><rect x="203.7" y="492.2"/><rect x="136.8" y="523.5"/><rect x="121.2" y="526.3"/><rect x="132.9" y="512.0"/><rect x="146.0" y="501.1"/><rect x="145.9" y="520.9"/><rect x="149.1" y="531.3"/><rect x="137.7" y="532.0"/><rect x="154.5" y="501.0"/><rect x="178.6" y="489.6"/><rect x="193.6" y="490.4"/><rect x="155.5" y="517.9"/><rect x="131.3" y="504.1"/><rect x="151.5" y="502.1"/><rect x="130.3" y="515.1"/><rect x="136.4" y="539.5"/><rect x="148.5" y="497.5"/><rect x="204.6" y="497.7"/><rect x="185.7" y="470.4"/><rect x="151.1" y="485.7"/><rect x="129.5" y="507.1"/><rect x="179.8" y="522.1"/><rect x="172.9" y="513.6"/><rect x="119.2" y="531.8"/><rect x="155.6" y="494.9"/><rect x="213.7" y="496.0"/><rect x="142.1" y="538.0"/><rect x="99.8" y="506.8"/><rect x="127.6" y="500.8"/><rect x="210.3" y="498.0"/><rect x="155.3" y="531.2"/><rect x="188.1" y="497.5"/><rect x="209.9" y="506.4"/><rect x="179.0" y="500.5"/><rect x="167.7" y="521.2"/><rect x="193.5" y="504.7"/><rect x="104.3" y="527.7"/><rect x="148.9" y="542.3"/><rect x="211.8" y="493.2"/><rect x="142.4" y="504.3"/><rect x="156.3" y="489.6"/><rect x="142.0" y="510.8"/><rect x="189.5" y="499.3"/><rect x="185.4" y="519.6"/><rect x="162.9" y="502.3"/><rect x="137.2" y="517.2"/><rect x="193.1" y="506.0"/><rect x="170.6" y="518.7"/><rect x="127.0" y="503.2"/><rect x="163.8" y="472.2"/><rect x="119.7" y="531.2"/><rect x="110.1" y="515.4"/><rect x="126.5" y="534.4"/><rect x="151.9" y="498.1"/><rect x="108.6" y="521.2"/><rect x="169.8" y="512.4"/><rect x="146.1" y="533.9"/><rect x="121.3" y="516.6"/><rect x="103.9" y="516.8"/><rect x="87.3" y="513.7"/><rect x="190.2" y="502.5"/><rect x="166.4" y="482.5"/><rect x="191.4" y="493.3"/><rect x="176.2" y="512.9"/><rect x="164.4" y="480.2"/><rect x="121.4" y="522.7"/><rect x="205.5" y="513.5"/><rect x="222.5" y="507.9"/><rect x="195.2" y="515.6"/><rect x="217.2" y="510.1"/><rect x="104.6" y="513.2"/><rect x="219.4" y="495.5"/><rect x="116.2" y="516.5"/><rect x="154.0" y="510.6"/><rect x="156.9" y="472.2"/><rect x="91.5" y="520.4"/><rect x="150.4" y="510.4"/><rect x="192.9" y="502.0"/><rect x="117.7" y="503.7"/><rect x="189.3" y="516.0"/><rect x="156.5" y="515.4"/><rect x="192.1" y="482.7"/><rect x="116.9" y="528.9"/><rect x="216.8" y="428.1"/><rect x="128.9" y="497.2"/><rect x="206.1" y="516.7"/><rect x="94.5" y="512.9"/><rect x="159.7" y="538.7"/><rect x="145.9" y="494.8"/><rect x="104.0" y="519.0"/><rect x="164.6" y="519.3"/><rect x="168.7" y="519.0"/><rect x="89.6" y="517.2"/><rect x="194.6" y="517.1"/><rect x="144.8" y="511.7"/><rect x="159.1" y="528.1"/><rect x="144.9" y="529.9"/><rect x="218.1" y="500.7"/><rect x="142.0" y="507.5"/><rect x="171.1" y="510.2"/><rect x="115.6" y="507.1"/><rect x="200.3" y="495.2"/><rect x="152.9" y="507.1"/><rect x="158.4" y="503.4"/><rect x="110.5" y="500.9"/><rect x="127.6" y="538.9"/><rect x="167.8" y="506.4"/><rect x="179.6" y="517.9"/><rect x="183.2" y="505.0"/><rect x="106.2" y="524.1"/><rect x="138.9" y="533.3"/><rect x="101.4" y="525.7"/><rect x="187.6" y="499.6"/><rect x="111.4" y="519.8"/><rect x="139.8" y="502.7"/><rect x="160.1" y="509.3"/><rect x="203.9" y="503.3"/><rect x="149.1" y="527.0"/><rect x="195.9" y="502.5"/><rect x="105.3" y="505.1"/><rect x="134.7" y="496.6"/><rect x="126.0" y="532.6"/><rect x="211.6" y="485.2"/><rect x="99.7" y="516.9"/><rect x="197.1" y="498.6"/><rect x="219.1" y="511.3"/><rect x="176.0" y="509.6"/><rect x="134.8" y="531.5"/><rect x="118.0" y="514.3"/><rect x="161.4" y="520.9"/><rect x="136.7" y="514.8"/><rect x="97.0" y="509.4"/><rect x="210.7" y="504.4"/><rect x="159.8" y="513.2"/><rect x="87.2" y="518.0"/><rect x="150.0" y="506.8"/><rect x="219.0" y="505.1"/><rect x="130.5" y="502.9"/><rect x="110.1" y="513.1"/><rect x="137.0" y="508.3"/><rect x="111.7" y="511.7"/><rect x="172.1" y="524.7"/><rect x="184.1" y="478.6"/><rect x="171.6" y="508.0"/><rect x="96.1" y="523.9"/><rect x="96.2" y="505.9"/><rect x="190.5" y="511.7"/><rect x="112.3" y="518.3"/><rect x="148.9" y="534.7"/><rect x="176.8" y="486.4"/><rect x="199.6" y="501.3"/><rect x="105.3" y="520.0"/><rect x="155.6" y="479.5"/><rect x="145.7" y="505.0"/><rect x="145.4" y="514.6"/><rect x="143.4" y="525.6"/><rect x="145.8" y="488.9"/><rect x="162.0" y="502.9"/><rect x="123.5" y="528.2"/><rect x="211.6" y="516.0"/><rect x="197.9" y="484.2"/><rect x="187.1" y="481.6"/><rect x="151.2" y="520.6"/><rect x="115.9" y="519.5"/><rect x="161.8" y="506.2"/><rect x="124.0" y="514.3"/><rect x="147.8" y="511.9"/><rect x="116.2" y="523.8"/><rect x="169.7" y="504.6"/><rect x="206.8" y="487.9"/><rect x="95.8" y="527.4"/><rect x="175.4" y="507.3"/><rect x="178.3" y="518.0"/><rect x="101.7" y="510.9"/><rect x="95.5" y="517.7"/><rect x="167.4" y="516.4"/><rect x="138.5" y="515.8"/><rect x="202.7" y="493.8"/><rect x="223.1" y="504.6"/><rect x="166.3" y="498.0"/><rect x="175.1" y="516.3"/><rect x="223.1" y="509.7"/><rect x="174.0" y="498.9"/><rect x="156.3" y="483.8"/><rect x="147.2" y="540.2"/><rect x="143.0" y="515.9"/><rect x="163.0" y="507.2"/><rect x="180.7" y="494.0"/><rect x="179.2" y="504.9"/><rect x="109.7" y="506.5"/><rect x="158.0" y="514.9"/><rect x="114.1" y="517.2"/><rect x="179.7" y="505.5"/><rect x="181.7" y="489.8"/><rect x="183.3" y="508.4"/><rect x="220.7" y="496.6"/><rect x="136.6" y="495.2"/><rect x="97.2" y="516.8"/><rect x="147.5" y="518.7"/><rect x="129.8" y="499.8"/><rect x="120.5" y="521.0"/><rect x="125.0" y="508.0"/><rect x="131.9" y="505.7"/><rect x="153.0" y="522.8"/><rect x="195.2" y="499.1"/><rect x="220.7" y="487.4"/><rect x="164.9" y="500.4"/><rect x="157.7" y="522.2"/><rect x="140.2" y="524.2"/><rect x="126.3" y="519.7"/><rect x="164.9" y="510.0"/><rect x="118.9" y="518.0"/><rect x="203.5" y="513.8"/><rect x="130.0" y="514.0"/><rect x="166.4" y="513.3"/><rect x="317.6" y="353.9"/></g>
<clipPath id="a3"><rect x="472.5" y="358.5" width="275.8" height="230.8"/></clipPath>
<clipPath id="o3"><path clip-rule="evenodd" d="M442.5 328.5H778.3V619.3H442.5zM472.5 423.86H748.3V461.07H472.5z"/></clipPath>
<clipPath id="n3"><rect x="472.5" y="423.86" width="275.8" height="37.21"/></clipPath>
<g id="m3" class="mk"><rect x="701.4" y="449.7"/><rect x="661.2" y="434.0"/><rect x="688.7" y="420.7"/><rect x="691.9" y="423.6"/><rect x="681.1" y="436.9"/><rect x="621.4" y="444.8"/><rect x="593.8" y="479.3"/><rect x="692.7" y="437.4"/><rect x="579.0" y="454.3"/><rect x="628.7" y="427.8"/><rect x="599.9" y="426.7"/><rect x="699.3" y="431.2"/><rect x="696.8" y="455.9"/><rect x="635.3" y="423.3"/><rect x="541.4" y="436.8"/><rect x="583.0" y="414.2"/><rect x="652.1" y="445.9"/><rect x="628.8" y="454.9"/><rect x="658.5" y="439.8"/><rect x="680.3" y="447.1"/><rect x="684.2" y="439.9"/><rect x="555.8" y="481.7"/><rect x="577.9" y="422.0"/><rect x="621.6" y="453.8"/><rect x="634.4" y="433.5"/><rect x="713.9" y="439.4"/><rect x="546.7" y="446.0"/><rect x="648.4" y="363.6"/><rect x="569.9" y="436.2"/><rect x="554.3" y="442.1"/><rect x="630.6" y="440.7"/><rect x="535.8" y="523.5"/><rect x="640.2" y="451.0"/><rect x="705.8" y="448.9"/><rect x="645.3" y="431.2"/><rect x="702.7" y="426.6"/><rect x="534.0" y="456.4"/><rect x="647.0" y="445.2"/><rect x="636.4" y="406.0"/><rect x="726.6" y="440.6"/><rect x="557.3" y="454.7"/><rect x="640.4" y="458.0"/><rect x="643.6" y="436.5"/><rect x="607.2" y="467.9"/><rect x="534.2" y="442.6"/><rect x="686.9" y="427.3"/><rect x="652.6" y="434.0"/><rect x="681.3" y="408.4"/><rect x="706.9" y="437.7"/><rect x="593.5" y="450.8"/><rect x="684.9" y="410.5"/><rect x="539.7" y="451.5"/><rect x="720.8" y="427.9"/><rect x="551.3" y="446.0"/><rect x="614.2" y="467.9"/><rect x="664.1" y="457.7"/><rect x="535.0" y="449.6"/><rect x="538.2" y="455.4"/><rect x="550.8" y="485.2"/><rect x="648.0" y="420.5"/><rect x="538.5" y="448.1"/><rect x="656.0" y="422.2"/><rect x="641.7" y="408.5"/><rect x="606.2" y="462.1"/><rect x="660.7" y="415.0"/><rect x="646.1" y="449.4"/><rect x="655.5" y="442.3"/><rect x="576.1" y="437.1"/><rect x="642.0" y="451.0"/><rect x="656.6" y="464.2"/><rect x="589.9" y="421.0"/><rect x="667.8" y="423.1"/><rect x="663.5" y="420.2"/><rect x="566.2" y="482.8"/><rect x="626.4" y="461.2"/><rect x="671.9" y="428.9"/><rect x="566.8" y="426.1"/><rect x="676.4" y="426.1"/><rect x="653.7" y="454.1"/><rect x="566.7" y="446.6"/><rect x="581.2" y="474.1"/><rect x="722.8" y="442.3"/><rect x="670.0" y="446.7"/><rect x="623.4" y="457.3"/><rect x="598.5" y="417.3"/><rect x="602.4" y="436.0"/><rect x="618.6" y="457.8"/><rect x="568.6" y="484.1"/><rect x="533.6" y="474.2"/><rect x="550.7" y="497.9"/><rect x="675.0" y="438.5"/><rect x="580.4" y="432.7"/><rect x="612.2" y="438.8"/><rect x="683.6" y="448.8"/><rect x="622.9" y="446.2"/><rect x="559.4" y="466.6"/><rect x="641.3" y="433.4"/><rect x="727.6" y="441.1"/><rect x="572.2" y="485.0"/><rect x="628.6" y="445.6"/><rect x="665.4" y="432.1"/><rect x="633.1" y="431.2"/><rect x="707.8" y="385.4"/><rect x="717.7" y="425.5"/><rect x="684.3" y="430.9"/><rect x="605.8" y="455.8"/><rect x="697.1" y="445.9"/><rect x="632.7" y="427.5"/><rect x="712.3" y="446.8"/><rect x="607.8" y="428.7"/><rect x="578.6" y="450.1"/><rect x="649.3" y="423.8"/><rect x="549.0" y="474.3"/><rect x="631.8" y="451.6"/><rect x="638.0" y="429.5"/><rect x="668.2" y="447.2"/><rect x="519.1" y="461.1"/><rect x="643.1" y="456.3"/><rect x="536.4" y="456.3"/><rect x="552.2" y="469.9"/><rect x="637.9" y="452.6"/><rect x="544.0" y="496.0"/><rect x="564.2" y="475.1"/><rect x="551.4" y="456.8"/><rect x="694.4" y="443.0"/><rect x="618.9" y="418.2"/><rect x="712.9" y="432.5"/><rect x="651.2" y="421.7"/><rect x="614.7" y="464.6"/><rect x="624.6" y="457.4"/><rect x="696.0" y="427.9"/><rect x="615.8" y="430.0"/><rect x="716.3" y="438.8"/><rect x="710.0" y="441.4"/><rect x="589.9" y="470.9"/><rect x="558.9" y="478.6"/><rect x="556.4" y="492.4"/><rect x="637.1" y="421.0"/><rect x="559.7" y="461.7"/><rect x="693.6" y="441.9"/><rect x="634.0" y="454.4"/><rect x="709.1" y="427.3"/><rect x="646.6" y="427.2"/><rect x="627.6" y="420.3"/><rect x="584.0" y="448.2"/><rect x="625.0" y="440.3"/><rect x="682.9" y="447.7"/><rect x="577.2" y="447.9"/><rect x="596.8" y="417.2"/><rect x="542.4" y="471.2"/><rect x="657.4" y="453.8"/><rect x="615.6" y="381.6"/><rect x="644.9" y="457.8"/><rect x="660.9" y="447.5"/><rect x="661.0" y="429.3"/><rect x="581.6" y="435.7"/><rect x="644.4" y="420.4"/><rect x="727.6" y="437.6"/><rect x="599.8" y="425.2"/><rect x="650.7" y="423.2"/><rect x="545.4" y="516.5"/><rect x="638.9" y="426.9"/><rect x="667.3" y="464.2"/><rect x="694.9" y="435.1"/><rect x="678.6" y="452.1"/><rect x="684.4" y="412.9"/><rect x="689.3" y="444.7"/><rect x="602.0" y="469.7"/><rect x="546.3" y="457.8"/><rect x="654.2" y="437.3"/><rect x="529.1" y="460.5"/><rect x="730.4" y="435.3"/><rect x="670.1" y="397.4"/><rect x="715.9" y="447.5"/><rect x="557.0" y="432.9"/><rect x="591.7" y="439.5"/><rect x="579.8" y="460.7"/><rect x="548.7" y="439.1"/><rect x="584.2" y="435.8"/><rect x="662.4" y="442.2"/><rect x="612.4" y="446.9"/><rect x="622.4" y="425.6"/><rect x="689.1" y="441.1"/><rect x="647.9" y="455.0"/><rect x="587.7" y="442.3"/><rect x="711.5" y="427.1"/><rect x="678.2" y="456.8"/><rect x="689.2" y="447.6"/><rect x="582.6" y="442.2"/><rect x="607.5" y="453.6"/><rect x="565.8" y="430.4"/><rect x="570.6" y="441.4"/><rect x="631.5" y="463.5"/><rect x="557.6" y="461.1"/><rect x="620.4" y="420.6"/><rect x="692.8" y="422.4"/><rect x="614.2" y="442.8"/><rect x="569.7" y="444.6"/><rect x="715.6" y="435.6"/><rect x="689.2" y="438.5"/><rect x="596.0" y="467.9"/><rect x="604.6" y="442.8"/><rect x="723.9" y="434.8"/><rect x="556.9" y="451.9"/><rect x="614.7" y="460.7"/><rect x="715.4" y="425.7"/><rect x="686.8" y="440.9"/><rect x="692.0" y="427.3"/><rect x="538.2" y="461.0"/><rect x="597.6" y="447.9"/><rect x="699.5" y="448.7"/><rect x="709.5" y="431.6"/><rect x="602.0" y="427.6"/><rect x="664.1" y="434.0"/><rect x="623.6" y="419.7"/><rect x="676.8" y="416.2"/><rect x="563.5" y="488.8"/><rect x="663.6" y="416.7"/><rect x="721.5" y="440.3"/><rect x="683.9" y="436.3"/><rect x="678.9" y="417.8"/><rect x="523.1" y="457.1"/><rect x="579.4" y="440.3"/><rect x="633.6" y="447.8"/><rect x="686.6" y="454.9"/><rect x="549.8" y="483.1"/><rect x="696.6" y="423.3"/><rect x="554.8" y="449.3"/><rect x="670.5" y="421.8"/><rect x="646.9" y="441.8"/><rect x="687.8" y="446.2"/><rect x="689.3" y="411.1"/><rect x="519.1" y="521.8"/><rect x="657.4" y="433.6"/><rect x="665.2" y="412.6"/><rect x="608.8" y="440.9"/><rect x="549.1" y="446.1"/><rect x="658.9" y="436.8"/><rect x="526.1" y="456.2"/><rect x="680.8" y="422.8"/><rect x="700.0" y="432.5"/><rect x="614.2" y="423.4"/><rect x="553.6" y="465.3"/><rect x="624.3" y="459.0"/><rect x="555.8" y="446.7"/><rect x="714.4" y="420.9"/><rect x="629.7" y="437.6"/><rect x="562.6" y="466.8"/><rect x="565.7" y="436.3"/><rect x="624.3" y="425.6"/><rect x="535.9" y="486.0"/><rect x="570.5" y="429.8"/><rect x="706.7" y="448.2"/><rect x="539.1" y="475.3"/><rect x="608.9" y="424.8"/><rect x="592.3" y="446.8"/><rect x="552.6" y="437.2"/><rect x="698.0" y="392.1"/><rect x="532.3" y="448.1"/><rect x="674.8" y="448.6"/><rect x="535.0" y="467.1"/><rect x="567.4" y="480.2"/><rect x="590.0" y="433.1"/><rect x="579.8" y="450.4"/><rect x="690.5" y="401.6"/><rect x="711.5" y="445.2"/><rect x="641.2" y="445.9"/><rect x="687.2" y="459.6"/><rect x="587.9" y="445.7"/><rect x="682.4" y="453.1"/><rect x="641.3" y="424.0"/><rect x="569.8" y="438.9"/><rect x="655.4" y="423.9"/><rect x="541.7" y="453.3"/><rect x="660.9" y="463.2"/><rect x="613.2" y="420.8"/><rect x="665.8" y="424.5"/><rect x="666.1" y="439.7"/><rect x="610.0" y="432.8"/><rect x="641.2" y="452.6"/><rect x="700.4" y="413.6"/><rect x="548.4" y="455.6"/><rect x="535.8" y="475.6"/><rect x="609.7" y="431.4"/><rect x="689.1" y="452.2"/><rect x="654.5" y="372.8"/><rect x="539.8" y="453.2"/><rect x="567.1" y="437.4"/><rect x="635.1" y="442.7"/><rect x="708.8" y="444.8"/><rect x="569.1" y="468.3"/><rect x="675.6" y="432.3"/><rect x="612.3" y="426.9"/><rect x="685.9" y="453.8"/><rect x="627.8" y="402.2"/><rect x="704.6" y="421.8"/><rect x="616.1" y="454.5"/><rect x="679.1" y="440.6"/><rect x="544.1" y="483.3"/><rect x="566.0" y="464.7"/><rect x="551.9" y="445.0"/><rect x="627.3" y="445.7"/><rect x="726.0" y="437.6"/><rect x="562.5" y="427.5"/><rect x="627.2" y="438.3"/><rect x="693.0" y="450.1"/><rect x="536.7" y="461.9"/><rect x="661.1" y="422.3"/><rect x="542.9" y="487.7"/><rect x="636.9" y="439.7"/><rect x="559.9" y="432.8"/><rect x="599.3" y="448.5"/><rect x="573.6" y="441.3"/><rect x="562.5" y="442.6"/><rect x="600.1" y="479.0"/><rect x="654.7" y="435.2"/><rect x="709.1" y="422.5"/><rect x="620.5" y="443.2"/><rect x="672.1" y="459.5"/><rect x="636.0" y="413.5"/><rect x="578.6" y="466.4"/><rect x="587.7" y="459.4"/><rect x="622.8" y="465.3"/><rect x="557.5" y="457.2"/><rect x="548.5" y="432.2"/><rect x="583.1" y="424.0"/><rect x="622.4" y="437.9"/><rect x="575.2" y="427.7"/><rect x="608.1" y="435.3"/><rect x="527.3" y="453.9"/><rect x="606.4" y="462.0"/><rect x="548.7" y="490.6"/><rect x="619.3" y="427.9"/><rect x="585.8" y="442.3"/><rect x="655.3" y="459.4"/><rect x="644.6" y="454.1"/><rect x="681.5" y="424.2"/><rect x="549.7" y="435.4"/><rect x="610.3" y="435.8"/><rect x="586.6" y="435.3"/><rect x="670.0" y="414.7"/><rect x="671.8" y="425.3"/><rect x="660.0" y="418.8"/><rect x="643.4" y="403.8"/><rect x="718.2" y="441.1"/><rect x="652.2" y="454.0"/><rect x="625.9" y="421.4"/><rect x="636.0" y="457.4"/><rect x="607.9" y="420.8"/><rect x="617.7" y="455.2"/><rect x="655.8" y="455.4"/><rect x="533.5" y="495.1"/><rect x="624.9" y="413.2"/><rect x="529.3" y="456.6"/><rect x="606.5" y="443.8"/><rect x="704.0" y="448.3"/><rect x="561.9" y="432.3"/><rect x="625.2" y="448.7"/><rect x="562.8" y="478.2"/><rect x="682.2" y="445.2"/><rect x="617.3" y="423.4"/><rect x="554.2" y="440.6"/><rect x="593.4" y="425.9"/><rect x="598.9" y="420.1"/><rect x="629.6" y="468.3"/><rect x="720.5" y="446.4"/><rect x="559.7" y="489.3"/><rect x="631.0" y="460.2"/><rect x="702.8" y="442.7"/><rect x="636.2" y="430.9"/><rect x="718.9" y="438.7"/><rect x="670.0" y="430.2"/><rect x="712.7" y="420.3"/><rect x="593.9" y="436.7"/><rect x="689.4" y="457.1"/><rect x="633.5" y="439.6"/><rect x="533.3" y="449.3"/><rect x="691.3" y="429.3"/><rect x="656.8" y="418.8"/><rect x="643.8" y="457.4"/><rect x="540.6" y="490.7"/><rect x="644.7" y="411.5"/><rect x="674.3" y="429.5"/><rect x="668.3" y="443.5"/><rect x="611.3" y="443.1"/><rect x="542.3" y="477.7"/><rect x="630.3" y="448.8"/><rect x="571.0" y="445.6"/><rect x="585.9" y="429.5"/><rect x="612.3" y="453.7"/><rect x="559.6" y="436.6"/><rect x="602.8" y="415.5"/><rect x="625.3" y="442.6"/><rect x="691.5" y="455.6"/><rect x="527.1" y="526.6"/><rect x="566.5" y="447.7"/><rect x="625.5" y="408.7"/><rect x="666.5" y="437.5"/><rect x="636.4" y="428.8"/><rect x="615.6" y="436.4"/><rect x="596.4" y="435.1"/><rect x="693.6" y="432.2"/><rect x="701.0" y="438.5"/><rect x="625.6" y="417.5"/><rect x="679.9" y="459.1"/><rect x="569.5" y="459.0"/><rect x="609.5" y="427.3"/><rect x="542.5" y="448.3"/><rect x="667.3" y="409.9"/><rect x="722.1" y="438.4"/><rect x="622.1" y="464.2"/><rect x="528.0" y="506.9"/><rect x="602.0" y="441.6"/><rect x="672.5" y="415.7"/><rect x="542.0" y="444.6"/><rect x="678.9" y="413.2"/><rect x="639.4" y="436.9"/><rect x="653.5" y="465.7"/><rect x="603.9" y="445.4"/><rect x="642.4" y="426.8"/><rect x="633.1" y="423.1"/><rect x="655.8" y="465.9"/><rect x="630.4" y="413.3"/><rect x="594.6" y="422.0"/><rect x="590.9" y="455.1"/><rect x="595.8" y="420.6"/><rect x="622.4" y="438.9"/><rect x="622.8" y="431.2"/><rect x="714.2" y="429.1"/><rect x="545.8" y="459.8"/><rect x="550.6" y="477.2"/><rect x="573.5" y="458.0"/><rect x="574.7" y="468.9"/><rect x="645.5" y="444.7"/><rect x="668.5" y="460.4"/><rect x="656.7" y="450.1"/><rect x="686.7" y="424.1"/><rect x="663.8" y="409.4"/><rect x="649.6" y="408.4"/><rect x="637.0" y="447.0"/><rect x="612.7" y="471.0"/><rect x="719.8" y="443.0"/><rect x="657.0" y="411.8"/><rect x="681.6" y="405.9"/><rect x="673.3" y="413.2"/><rect x="580.9" y="453.4"/><rect x="588.2" y="426.7"/><rect x="688.3" y="400.3"/><rect x="718.4" y="426.9"/><rect x="683.1" y="399.4"/><rect x="652.6" y="410.0"/><rect x="644.4" y="466.0"/><rect x="555.7" y="468.9"/><rect x="548.7" y="454.1"/><rect x="705.8" y="430.1"/><rect x="703.3" y="432.6"/><rect x="651.0" y="432.4"/><rect x="705.4" y="402.2"/><rect x="574.9" y="457.8"/><rect x="558.2" y="488.9"/><rect x="682.7" y="455.7"/><rect x="630.2" y="454.8"/><rect x="663.0" y="453.9"/><rect x="659.6" y="402.3"/><rect x="690.0" y="427.1"/><rect x="698.9" y="423.8"/><rect x="620.7" y="441.1"/><rect x="725.6" y="442.3"/><rect x="649.7" y="450.3"/><rect x="715.1" y="448.7"/><rect x="637.7" y="410.8"/><rect x="572.9" y="450.1"/><rect x="588.5" y="452.8"/><rect x="634.8" y="467.8"/><rect x="540.4" y="463.0"/><rect x="595.2" y="444.9"/><rect x="679.3" y="445.0"/><rect x="612.7" y="464.0"/><rect x="697.6" y="421.6"/><rect x="657.1" y="445.9"/><rect x="565.3" y="451.1"/><rect x="683.7" y="426.8"/><rect x="630.2" y="442.5"/><rect x="629.7" y="408.2"/><rect x="584.0" y="439.6"/><rect x="687.5" y="413.1"/><rect x="691.0" y="450.6"/><rect x="684.1" y="424.0"/><rect x="619.5" y="447.2"/><rect x="699.7" y="421.4"/><rect x="562.9" y="446.7"/><rect x="608.9" y="450.3"/><rect x="646.6" y="425.8"/><rect x="673.1" y="432.7"/><rect x="691.7" y="435.3"/><rect x="545.6" y="476.4"/><rect x="540.9" y="480.4"/><rect x="657.0" y="455.8"/><rect x="573.0" y="477.7"/><rect x="687.1" y="417.5"/><rect x="589.8" y="465.8"/><rect x="577.2" y="437.8"/><rect x="654.6" y="430.8"/><rect x="610.3" y="460.7"/><rect x="555.8" y="473.2"/><rect x="695.3" y="449.0"/><rect x="594.3" y="452.1"/><rect x="664.6" y="403.3"/><rect x="558.9" y="440.0"/><rect x="603.7" y="476.8"/><rect x="602.7" y="433.1"/><rect x="641.6" y="440.8"/><rect x="590.9" y="437.2"/><rect x="589.7" y="446.4"/><rect x="581.6" y="455.6"/><rect x="635.2" y="462.1"/><rect x="674.4" y="462.6"/><rect x="514.4" y="488.4"/><rect x="568.7" y="461.8"/><rect x="610.1" y="454.0"/><rect x="661.4" y="436.4"/><rect x="577.7" y="478.8"/><rect x="617.4" y="441.5"/><rect x="615.7" y="426.4"/><rect x="675.4" y="428.7"/><rect x="614.2" y="414.0"/><rect x="597.1" y="439.3"/><rect x="674.3" y="406.6"/><rect x="586.5" y="411.9"/><rect x="637.0" y="419.8"/><rect x="655.6" y="409.0"/><rect x="623.3" y="426.7"/><rect x="668.3" y="427.8"/><rect x="653.5" y="448.1"/><rect x="647.1" y="373.8"/><rect x="577.0" y="483.8"/><rect x="677.7" y="440.1"/><rect x="594.4" y="471.9"/><rect x="597.2" y="436.8"/><rect x="577.3" y="433.7"/><rect x="650.6" y="416.2"/><rect x="681.0" y="427.2"/><rect x="620.8" y="433.4"/><rect x="528.0" y="449.8"/><rect x="603.9" y="458.6"/><rect x="624.3" y="429.3"/><rect x="687.2" y="443.1"/><rect x="560.5" y="437.2"/><rect x="662.4" y="451.3"/><rect x="524.5" y="517.0"/><rect x="690.3" y="425.7"/><rect x="529.9" y="446.1"/><rect x="611.8" y="441.4"/><rect x="568.5" y="452.6"/><rect x="537.3" y="438.9"/><rect x="563.1" y="456.8"/><rect x="576.7" y="431.0"/><rect x="712.2" y="429.9"/><rect x="674.1" y="456.4"/><rect x="705.7" y="441.0"/><rect x="709.9" y="446.2"/><rect x="583.3" y="450.4"/><rect x="559.2" y="472.7"/><rect x="649.5" y="396.2"/><rect x="701.9" y="436.3"/><rect x="674.3" y="441.6"/><rect x="530.7" y="468.1"/><rect x="682.3" y="416.2"/><rect x="552.7" y="449.7"/><rect x="594.2" y="430.1"/><rect x="677.0" y="443.9"/><rect x="633.6" y="453.2"/><rect x="666.1" y="449.0"/><rect x="483.4" y="514.6"/><rect x="628.3" y="432.8"/><rect x="690.4" y="435.3"/><rect x="639.4" y="458.0"/><rect x="657.2" y="425.9"/><rect x="666.4" y="435.6"/><rect x="682.2" y="434.9"/><rect x="648.0" y="437.8"/><rect x="637.2" y="459.2"/><rect x="606.9" y="436.4"/><rect x="592.5" y="440.0"/><rect x="707.2" y="433.1"/><rect x="702.8" y="425.8"/><rect x="686.4" y="406.3"/><rect x="672.9" y="444.2"/><rect x="533.2" y="453.7"/><rect x="573.9" y="447.7"/><rect x="576.0" y="464.9"/><rect x="580.3" y="423.3"/><rect x="543.9" y="440.8"/><rect x="600.7" y="439.7"/><rect x="618.2" y="469.6"/><rect x="651.1" y="457.8"/><rect x="697.7" y="440.8"/><rect x="645.3" y="446.4"/><rect x="656.7" y="422.1"/><rect x="589.1" y="444.8"/><rect x="602.3" y="466.3"/><rect x="583.6" y="467.4"/><rect x="721.7" y="434.1"/><rect x="539.4" y="471.1"/><rect x="570.9" y="433.9"/><rect x="584.3" y="455.0"/><rect x="593.4" y="458.8"/><rect x="538.8" y="458.5"/><rect x="669.7" y="451.7"/><rect x="571.8" y="468.5"/><rect x="594.0" y="433.7"/><rect x="675.0" y="381.6"/><rect x="552.5" y="468.0"/><rect x="596.7" y="450.9"/><rect x="612.2" y="430.7"/><rect x="650.9" y="428.4"/><rect x="669.3" y="403.4"/><rect x="696.9" y="431.0"/><rect x="670.0" y="441.1"/><rect x="577.2" y="428.9"/><rect x="586.9" y="436.6"/><rect x="590.4" y="427.0"/><rect x="685.3" y="431.4"/><rect x="569.2" y="449.4"/><rect x="627.7" y="416.9"/><rect x="630.7" y="435.2"/><rect x="609.4" y="460.6"/><rect x="599.0" y="442.3"/><rect x="660.9" y="427.6"/><rect x="602.9" y="432.4"/><rect x="565.2" y="456.4"/><rect x="609.2" y="456.5"/><rect x="528.5" y="443.8"/><rect x="612.0" y="403.6"/><rect x="575.4" y="430.8"/><rect x="724.3" y="432.1"/><rect x="601.9" y="456.3"/><rect x="603.7" y="424.3"/><rect x="564.6" y="500.4"/><rect x="657.8" y="427.8"/><rect x="547.5" y="451.3"/><rect x="611.6" y="435.3"/><rect x="620.5" y="437.5"/><rect x="546.3" y="450.6"/><rect x="644.2" y="440.2"/><rect x="578.6" y="462.1"/><rect x="636.5" y="404.2"/><rect x="707.2" y="411.2"/><rect x="587.1" y="476.2"/><rect x="600.6" y="446.1"/><rect x="714.3" y="442.1"/><rect x="698.3" y="443.7"/><rect x="568.4" y="431.6"/><rect x="706.0" y="429.0"/><rect x="573.2" y="451.8"/><rect x="705.3" y="444.9"/><rect x="609.2" y="421.1"/><rect x="625.4" y="434.5"/><rect x="546.7" y="473.0"/><rect x="678.1" y="438.3"/><rect x="696.7" y="437.3"/><rect x="581.4" y="429.8"/><rect x="538.8" y="444.4"/><rect x="595.0" y="426.7"/><rect x="666.3" y="453.6"/><rect x="579.1" y="478.1"/><rect x="628.1" y="412.0"/><rect x="542.4" y="457.6"/><rect x="587.9" y="449.6"/><rect x="718.9" y="432.9"/><rect x="553.2" y="459.3"/><rect x="671.8" y="444.8"/><rect x="630.6" y="425.0"/><rect x="555.4" y="438.3"/><rect x="585.9" y="460.8"/><rect x="633.4" y="417.2"/><rect x="521.5" y="506.9"/><rect x="604.3" y="448.6"/><rect x="698.6" y="418.6"/><rect x="634.9" y="418.1"/><rect x="681.3" y="450.4"/><rect x="611.4" y="412.0"/><rect x="621.4" y="435.3"/><rect x="711.0" y="425.7"/><rect x="632.6" y="443.7"/><rect x="650.9" y="445.2"/><rect x="706.6" y="425.5"/><rect x="596.3" y="474.6"/><rect x="638.1" y="424.5"/><rect x="662.0" y="454.5"/><rect x="693.4" y="417.7"/><rect x="687.4" y="435.0"/><rect x="717.2" y="445.5"/><rect x="599.8" y="435.7"/><rect x="618.5" y="423.0"/><rect x="583.4" y="433.2"/><rect x="615.8" y="446.3"/><rect x="653.0" y="439.6"/><rect x="633.2" y="457.1"/><rect x="555.1" y="457.2"/><rect x="706.8" y="413.1"/><rect x="649.4" y="447.4"/><rect x="597.7" y="423.9"/><rect x="591.9" y="468.2"/><rect x="634.4" y="438.2"/><rect x="709.8" y="437.3"/><rect x="648.2" y="426.6"/><rect x="606.7" y="445.8"/><rect x="541.6" y="498.8"/><rect x="674.4" y="411.6"/><rect x="654.0" y="412.5"/><rect x="583.4" y="461.9"/><rect x="593.8" y="470.8"/><rect x="678.0" y="450.7"/><rect x="641.9" y="429.6"/><rect x="566.8" y="457.9"/><rect x="599.6" y="465.9"/><rect x="606.1" y="449.1"/><rect x="535.9" y="443.6"/><rect x="600.5" y="452.9"/><rect x="612.6" y="451.2"/><rect x="729.4" y="433.4"/><rect x="529.9" y="453.7"/><rect x="572.7" y="464.5"/><rect x="600.0" y="458.4"/><rect x="592.2" y="426.0"/><rect x="631.5" y="436.6"/><rect x="684.2" y="391.4"/><rect x="561.4" y="450.3"/><rect x="678.0" y="408.7"/><rect x="535.6" y="452.2"/><rect x="678.9" y="431.6"/><rect x="586.1" y="423.5"/><rect x="577.2" y="475.3"/><rect x="551.1" y="478.0"/><rect x="646.9" y="403.5"/><rect x="639.6" y="441.7"/><rect x="618.2" y="430.3"/><rect x="613.2" y="457.9"/><rect x="599.9" y="413.2"/><rect x="578.7" y="442.7"/><rect x="626.0" y="453.1"/><rect x="719.9" y="382.9"/><rect x="699.5" y="441.3"/><rect x="539.4" y="439.0"/><rect x="619.3" y="459.8"/><rect x="604.1" y="422.8"/><rect x="599.2" y="429.4"/><rect x="595.5" y="430.2"/><rect x="670.1" y="450.7"/><rect x="594.8" y="456.3"/><rect x="681.5" y="453.7"/><rect x="668.5" y="456.2"/><rect x="553.8" y="452.3"/><rect x="665.5" y="443.1"/><rect x="622.8" y="450.0"/><rect x="539.6" y="469.2"/><rect x="546.9" y="503.1"/><rect x="619.6" y="453.5"/><rect x="662.7" y="437.7"/><rect x="692.4" y="407.7"/><rect x="695.2" y="443.5"/><rect x="545.2" y="490.0"/><rect x="714.0" y="430.0"/><rect x="529.2" y="448.5"/><rect x="702.0" y="431.6"/><rect x="536.1" y="438.1"/><rect x="588.1" y="440.6"/><rect x="597.4" y="452.0"/><rect x="661.0" y="424.6"/><rect x="559.8" y="482.1"/><rect x="673.8" y="410.9"/><rect x="661.2" y="405.5"/><rect x="639.9" y="443.9"/><rect x="597.7" y="465.1"/><rect x="645.2" y="407.6"/><rect x="616.3" y="450.6"/><rect x="549.0" y="443.7"/><rect x="675.0" y="424.1"/><rect x="561.6" y="452.0"/><rect x="650.5" y="450.5"/><rect x="664.3" y="451.6"/><rect x="710.4" y="424.3"/><rect x="676.6" y="423.5"/><rect x="536.9" y="473.0"/><rect x="566.6" y="453.9"/><rect x="688.0" y="449.5"/><rect x="534.1" y="459.4"/><rect x="548.3" y="468.2"/><rect x="558.9" y="459.3"/><rect x="581.2" y="428.0"/><rect x="539.6" y="503.1"/><rect x="562.9" y="440.7"/><rect x="671.8" y="433.0"/><rect x="639.1" y="448.0"/><rect x="581.8" y="472.9"/><rect x="628.1" y="431.1"/><rect x="548.9" y="437.8"/><rect x="570.1" y="457.8"/><rect x="693.7" y="453.8"/><rect x="643.2" y="442.7"/><rect x="626.2" y="426.6"/><rect x="648.1" y="418.3"/><rect x="697.1" y="412.7"/><rect x="584.1" y="477.8"/><rect x="564.5" y="440.2"/><rect x="573.9" y="432.5"/><rect x="563.7" y="472.8"/><rect x="537.9" y="489.6"/><rect x="591.4" y="451.4"/><rect x="667.8" y="419.1"/><rect x="584.6" y="432.1"/><rect x="640.4" y="421.4"/><rect x="678.1" y="435.2"/><rect x="583.6" y="453.3"/><rect x="593.4" y="481.3"/><rect x="510.2" y="525.9"/><rect x="563.3" y="433.4"/><rect x="571.3" y="470.3"/><rect x="642.9" y="418.1"/><rect x="606.5" y="424.6"/><rect x="665.3" y="426.7"/><rect x="673.1" y="447.9"/><rect x="677.1" y="420.2"/><rect x="667.4" y="461.9"/><rect x="559.0" y="447.4"/><rect x="698.0" y="427.6"/><rect x="662.8" y="441.9"/><rect x="675.7" y="448.0"/><rect x="687.6" y="421.1"/><rect x="543.6" y="467.4"/><rect x="635.0" y="395.1"/><rect x="553.6" y="489.7"/><rect x="647.1" y="432.4"/><rect x="582.4" y="420.2"/><rect x="657.5" y="442.1"/><rect x="569.9" y="477.3"/><rect x="547.7" y="462.4"/><rect x="577.3" y="470.8"/><rect x="681.8" y="432.6"/><rect x="566.8" y="469.8"/><rect x="579.7" y="446.1"/><rect x="662.8" y="459.5"/><rect x="553.5" y="435.0"/><rect x="719.0" y="430.0"/><rect x="659.8" y="441.7"/><rect x="546.9" y="440.0"/><rect x="610.0" y="415.6"/><rect x="665.5" y="446.6"/><rect x="702.3" y="419.1"/><rect x="648.2" y="432.8"/><rect x="709.0" y="411.9"/><rect x="545.5" y="463.0"/><rect x="596.2" y="458.0"/><rect x="618.4" y="451.5"/><rect x="660.6" y="455.9"/><rect x="652.2" y="438.6"/><rect x="720.6" y="429.8"/><rect x="653.4" y="427.7"/><rect x="607.7" y="440.0"/><rect x="730.8" y="439.3"/><rect x="576.1" y="424.6"/><rect x="700.9" y="446.0"/><rect x="545.4" y="438.7"/><rect x="668.0" y="430.2"/><rect x="679.2" y="456.4"/><rect x="613.6" y="415.7"/><rect x="712.5" y="437.1"/><rect x="547.7" y="459.6"/><rect x="695.7" y="410.1"/><rect x="597.0" y="458.7"/><rect x="667.9" y="422.5"/><rect x="638.1" y="434.2"/><rect x="586.8" y="463.4"/><rect x="663.2" y="401.8"/><rect x="659.2" y="430.6"/><rect x="526.5" y="449.4"/><rect x="701.9" y="421.9"/><rect x="674.9" y="421.6"/><rect x="555.3" y="463.8"/><rect x="571.9" y="443.0"/><rect x="652.0" y="461.1"/><rect x="558.4" y="442.4"/><rect x="591.2" y="463.3"/><rect x="656.0" y="450.5"/><rect x="590.3" y="430.7"/><rect x="645.9" y="433.9"/><rect x="697.5" y="454.1"/><rect x="552.8" y="489.5"/><rect x="600.4" y="454.9"/><rect x="610.9" y="446.4"/><rect x="586.0" y="472.1"/><rect x="565.6" y="443.2"/><rect x="683.2" y="420.8"/><rect x="567.3" y="435.1"/><rect x="596.7" y="442.5"/><rect x="566.1" y="492.0"/><rect x="604.6" y="452.5"/><rect x="582.1" y="439.5"/><rect x="577.1" y="455.8"/><rect x="546.1" y="442.7"/><rect x="642.7" y="437.8"/><rect x="641.8" y="411.8"/><rect x="561.2" y="490.7"/><rect x="573.3" y="450.9"/><rect x="563.7" y="459.9"/><rect x="701.7" y="440.5"/><rect x="544.9" y="453.1"/><rect x="547.1" y="481.6"/><rect x="582.9" y="475.0"/><rect x="660.2" y="459.7"/><rect x="598.5" y="426.4"/><rect x="588.0" y="455.3"/><rect x="548.2" y="487.0"/><rect x="691.9" y="412.0"/><rect x="670.6" y="406.8"/><rect x="606.2" y="414.0"/><rect x="672.1" y="438.5"/><rect x="541.9" y="448.7"/><rect x="554.3" y="478.2"/><rect x="570.8" y="452.1"/><rect x="649.6" y="452.9"/><rect x="539.8" y="435.7"/><rect x="607.6" y="430.5"/><rect x="570.8" y="477.1"/><rect x="601.1" y="435.1"/><rect x="559.4" y="449.9"/><rect x="540.9" y="437.0"/><rect x="634.7" y="449.1"/><rect x="527.1" y="512.9"/><rect x="617.3" y="443.1"/><rect x="575.1" y="443.9"/><rect x="712.9" y="440.9"/><rect x="585.1" y="429.0"/><rect x="709.8" y="434.4"/><rect x="675.0" y="453.5"/><rect x="693.4" y="446.3"/><rect x="641.1" y="416.8"/><rect x="560.8" y="477.0"/><rect x="647.2" y="411.6"/><rect x="615.6" y="435.5"/><rect x="575.9" y="459.4"/><rect x="590.7" y="473.9"/><rect x="687.4" y="400.6"/><rect x="535.4" y="445.5"/><rect x="602.1" y="463.9"/><rect x="686.9" y="438.3"/><rect x="696.4" y="416.0"/><rect x="590.3" y="454.5"/><rect x="632.1" y="422.8"/><rect x="615.6" y="421.1"/><rect x="566.4" y="433.8"/><rect x="650.2" y="466.4"/><rect x="558.1" y="474.9"/><rect x="550.9" y="439.7"/><rect x="641.1" y="464.4"/><rect x="655.7" y="441.9"/></g>
<clipPath id="a4"><rect x="67.3" y="679.4" width="275.5" height="231.0"/></clipPath>
<clipPath id="o4"><path clip-rule="evenodd" d="M37.3 649.4H372.8V940.4H37.3zM67.3 751.37H342.8V777.17H67.3z"/></clipPath>
<clipPath id="n4"><rect x="67.3" y="751.37" width="275.5" height="25.80"/></clipPath>
<g id="m4" class="mk"><rect x="258.0" y="764.9"/><rect x="185.1" y="765.6"/><rect x="293.8" y="766.5"/><rect x="255.0" y="763.5"/><rect x="249.2" y="776.5"/><rect x="273.6" y="760.4"/><rect x="221.3" y="749.5"/><rect x="281.9" y="742.4"/><rect x="279.4" y="764.0"/><rect x="206.9" y="750.9"/><rect x="134.4" y="765.9"/><rect x="166.5" y="774.3"/><rect x="235.4" y="738.7"/><rect x="256.5" y="770.3"/><rect x="283.9" y="684.2"/><rect x="296.9" y="768.1"/><rect x="194.6" y="779.7"/><rect x="257.8" y="742.9"/><rect x="134.5" y="783.9"/><rect x="178.0" y="781.5"/><rect x="177.9" y="775.2"/><rect x="189.3" y="777.8"/><rect x="284.7" y="756.7"/><rect x="183.1" y="777.9"/><rect x="189.3" y="749.7"/><rect x="278.9" y="761.5"/><rect x="224.2" y="717.9"/><rect x="131.3" y="770.7"/><rect x="193.3" y="753.6"/><rect x="271.0" y="767.5"/><rect x="112.7" y="781.8"/><rect x="224.9" y="760.4"/><rect x="152.9" y="767.4"/><rect x="249.0" y="750.9"/><rect x="97.2" y="769.3"/><rect x="228.0" y="770.9"/><rect x="123.9" y="762.0"/><rect x="108.3" y="792.2"/><rect x="187.7" y="761.7"/><rect x="171.9" y="745.2"/><rect x="111.6" y="790.2"/><rect x="198.2" y="758.6"/><rect x="156.6" y="780.0"/><rect x="165.4" y="782.7"/><rect x="112.9" y="792.7"/><rect x="229.8" y="764.1"/><rect x="157.1" y="752.0"/><rect x="140.6" y="804.0"/><rect x="179.9" y="764.8"/><rect x="133.4" y="784.5"/><rect x="135.3" y="764.2"/><rect x="138.1" y="788.5"/><rect x="249.5" y="759.1"/><rect x="268.4" y="733.1"/><rect x="199.7" y="741.7"/><rect x="185.2" y="788.5"/><rect x="210.5" y="729.6"/><rect x="154.8" y="775.9"/><rect x="178.6" y="773.1"/><rect x="299.1" y="767.1"/><rect x="180.1" y="758.5"/><rect x="274.3" y="760.7"/><rect x="250.7" y="726.0"/><rect x="186.4" y="742.9"/><rect x="251.5" y="742.5"/><rect x="219.2" y="737.3"/><rect x="281.4" y="762.9"/><rect x="192.8" y="750.2"/><rect x="159.9" y="797.2"/><rect x="238.0" y="750.1"/><rect x="237.1" y="715.7"/><rect x="138.9" y="763.6"/><rect x="121.0" y="766.5"/><rect x="180.2" y="776.5"/><rect x="279.1" y="725.6"/><rect x="210.4" y="747.5"/><rect x="119.9" y="787.3"/><rect x="196.1" y="761.7"/><rect x="296.3" y="761.6"/><rect x="143.5" y="787.9"/><rect x="268.5" y="768.1"/><rect x="183.5" y="793.2"/><rect x="294.9" y="760.9"/><rect x="306.4" y="749.2"/><rect x="139.0" y="786.2"/><rect x="276.9" y="747.0"/><rect x="209.9" y="769.6"/><rect x="249.6" y="754.2"/><rect x="131.6" y="768.9"/><rect x="186.6" y="739.1"/><rect x="129.3" y="766.1"/><rect x="181.4" y="765.7"/><rect x="228.9" y="738.3"/><rect x="194.3" y="762.5"/><rect x="311.0" y="750.2"/><rect x="125.1" y="781.7"/><rect x="167.9" y="766.4"/><rect x="193.2" y="740.1"/><rect x="159.0" y="794.6"/><rect x="134.8" y="798.4"/><rect x="315.6" y="747.3"/><rect x="246.6" y="755.6"/><rect x="217.5" y="749.0"/><rect x="269.6" y="752.1"/><rect x="183.4" y="748.9"/><rect x="210.4" y="752.3"/><rect x="220.1" y="757.7"/><rect x="106.7" y="786.9"/><rect x="146.2" y="753.7"/><rect x="162.1" y="756.2"/><rect x="114.8" y="775.3"/><rect x="258.3" y="724.7"/><rect x="230.1" y="746.3"/><rect x="299.0" y="765.4"/><rect x="219.5" y="725.0"/><rect x="322.0" y="747.6"/><rect x="314.1" y="748.9"/><rect x="127.7" y="764.7"/><rect x="238.5" y="732.4"/><rect x="224.4" y="735.8"/><rect x="183.8" y="743.7"/><rect x="218.6" y="734.3"/><rect x="132.4" y="800.0"/><rect x="162.0" y="771.5"/><rect x="171.2" y="788.2"/><rect x="192.2" y="781.3"/><rect x="158.8" y="758.6"/><rect x="107.2" y="802.0"/><rect x="219.9" y="772.9"/><rect x="152.8" y="796.5"/><rect x="173.5" y="793.9"/><rect x="163.0" y="783.2"/><rect x="98.7" y="766.8"/><rect x="247.4" y="763.0"/><rect x="231.2" y="749.5"/><rect x="217.5" y="732.1"/><rect x="185.1" y="756.7"/><rect x="210.7" y="754.3"/><rect x="116.3" y="786.6"/><rect x="156.9" y="787.8"/><rect x="259.4" y="752.2"/><rect x="174.5" y="766.0"/><rect x="124.5" y="787.6"/><rect x="200.2" y="778.8"/><rect x="111.1" y="769.2"/><rect x="218.6" y="755.1"/><rect x="124.8" y="780.2"/><rect x="226.5" y="763.1"/><rect x="206.7" y="738.3"/><rect x="242.6" y="764.4"/><rect x="231.7" y="769.9"/><rect x="210.1" y="773.7"/><rect x="145.8" y="768.5"/><rect x="230.3" y="755.6"/><rect x="199.7" y="770.5"/><rect x="177.1" y="746.2"/><rect x="308.9" y="761.9"/><rect x="295.9" y="765.8"/><rect x="249.4" y="715.4"/><rect x="104.8" y="765.7"/><rect x="300.1" y="760.2"/><rect x="281.6" y="759.0"/><rect x="158.7" y="769.6"/><rect x="281.2" y="747.5"/><rect x="244.0" y="744.9"/><rect x="308.1" y="758.4"/><rect x="138.1" y="794.6"/><rect x="141.2" y="758.5"/><rect x="242.2" y="771.5"/><rect x="284.1" y="761.3"/><rect x="159.6" y="774.9"/><rect x="175.3" y="784.9"/><rect x="240.3" y="759.9"/><rect x="314.6" y="758.4"/><rect x="277.7" y="757.2"/><rect x="256.8" y="754.3"/><rect x="262.4" y="755.9"/><rect x="139.8" y="765.4"/><rect x="284.0" y="749.0"/><rect x="238.6" y="747.1"/><rect x="171.8" y="766.7"/><rect x="135.6" y="768.2"/><rect x="192.6" y="751.9"/><rect x="256.1" y="734.8"/><rect x="147.4" y="788.0"/><rect x="233.2" y="758.6"/><rect x="199.1" y="744.9"/><rect x="284.8" y="732.7"/><rect x="164.5" y="796.9"/><rect x="186.7" y="755.7"/><rect x="103.3" y="778.0"/><rect x="121.1" y="771.9"/><rect x="265.0" y="731.1"/><rect x="309.1" y="741.0"/><rect x="196.6" y="755.8"/><rect x="120.7" y="761.7"/><rect x="307.4" y="756.3"/><rect x="257.4" y="738.9"/><rect x="125.3" y="774.7"/><rect x="154.2" y="791.5"/><rect x="78.5" y="829.8"/><rect x="207.1" y="746.7"/><rect x="252.5" y="754.7"/><rect x="126.6" y="787.0"/><rect x="301.0" y="751.3"/><rect x="263.2" y="697.0"/><rect x="273.5" y="745.7"/><rect x="103.6" y="781.5"/><rect x="186.6" y="768.3"/><rect x="160.5" y="788.2"/><rect x="130.2" y="761.0"/><rect x="146.7" y="763.1"/><rect x="227.6" y="753.5"/><rect x="288.8" y="745.4"/><rect x="261.9" y="732.3"/><rect x="286.5" y="756.0"/><rect x="208.0" y="764.1"/><rect x="235.5" y="768.8"/><rect x="267.1" y="761.4"/><rect x="169.3" y="771.8"/><rect x="311.5" y="756.9"/><rect x="184.6" y="773.0"/><rect x="175.4" y="757.0"/><rect x="182.9" y="755.0"/><rect x="222.9" y="758.0"/><rect x="267.5" y="764.4"/><rect x="218.2" y="770.4"/><rect x="288.8" y="693.8"/><rect x="241.4" y="762.4"/><rect x="201.9" y="757.9"/><rect x="100.9" y="768.0"/><rect x="159.1" y="764.7"/><rect x="108.8" y="767.9"/><rect x="115.9" y="768.3"/><rect x="143.5" y="789.3"/><rect x="202.7" y="771.9"/><rect x="289.4" y="755.7"/><rect x="180.1" y="767.3"/><rect x="193.1" y="768.5"/><rect x="152.6" y="765.8"/><rect x="223.8" y="757.3"/><rect x="149.8" y="791.9"/><rect x="226.5" y="729.7"/><rect x="201.1" y="753.2"/><rect x="223.9" y="739.2"/><rect x="255.7" y="722.7"/><rect x="118.1" y="794.0"/><rect x="293.4" y="745.7"/><rect x="309.4" y="752.8"/><rect x="193.2" y="758.7"/><rect x="224.5" y="774.3"/><rect x="253.9" y="769.1"/><rect x="108.1" y="762.3"/><rect x="224.3" y="730.4"/><rect x="265.2" y="752.8"/><rect x="189.7" y="770.3"/><rect x="200.9" y="769.5"/><rect x="278.7" y="737.6"/><rect x="276.9" y="767.9"/><rect x="134.1" y="776.7"/><rect x="150.6" y="782.5"/><rect x="195.8" y="756.6"/><rect x="213.4" y="776.3"/><rect x="174.4" y="761.4"/><rect x="275.5" y="770.5"/><rect x="105.1" y="774.3"/><rect x="226.8" y="769.5"/><rect x="123.2" y="792.2"/><rect x="243.4" y="749.9"/><rect x="175.5" y="768.6"/><rect x="241.6" y="705.5"/><rect x="135.2" y="793.9"/><rect x="161.7" y="766.0"/><rect x="157.1" y="770.6"/><rect x="127.1" y="759.7"/><rect x="211.0" y="737.6"/><rect x="241.2" y="768.7"/><rect x="251.1" y="729.6"/><rect x="152.3" y="777.9"/><rect x="207.6" y="755.3"/><rect x="209.8" y="779.2"/><rect x="214.7" y="772.9"/><rect x="176.5" y="773.5"/><rect x="205.6" y="773.9"/><rect x="283.4" y="746.7"/><rect x="146.6" y="772.2"/><rect x="196.3" y="774.8"/><rect x="213.9" y="725.1"/><rect x="169.7" y="763.5"/><rect x="261.7" y="758.7"/><rect x="135.8" y="803.1"/><rect x="249.7" y="745.1"/><rect x="259.8" y="755.9"/><rect x="166.7" y="764.3"/><rect x="228.5" y="753.2"/><rect x="161.0" y="798.3"/><rect x="235.7" y="746.5"/><rect x="247.7" y="767.7"/><rect x="190.4" y="730.3"/><rect x="210.9" y="742.0"/><rect x="268.0" y="756.0"/><rect x="284.2" y="759.9"/><rect x="289.3" y="768.8"/><rect x="316.8" y="753.7"/><rect x="217.1" y="736.0"/><rect x="128.7" y="795.0"/><rect x="152.4" y="757.1"/><rect x="173.2" y="772.2"/><rect x="242.2" y="758.8"/><rect x="298.9" y="755.2"/><rect x="137.7" y="774.9"/><rect x="149.6" y="775.2"/><rect x="166.2" y="811.6"/><rect x="217.3" y="776.5"/><rect x="296.5" y="743.7"/><rect x="110.4" y="777.2"/><rect x="233.2" y="725.1"/><rect x="159.4" y="781.3"/><rect x="118.4" y="784.0"/><rect x="272.4" y="739.3"/><rect x="170.6" y="775.5"/><rect x="238.7" y="744.0"/><rect x="233.5" y="763.0"/><rect x="117.1" y="799.9"/><rect x="178.6" y="793.5"/><rect x="192.5" y="754.5"/><rect x="244.3" y="732.9"/><rect x="160.6" y="751.9"/><rect x="141.5" y="776.2"/><rect x="141.4" y="769.8"/><rect x="212.7" y="722.9"/><rect x="230.1" y="773.4"/><rect x="159.4" y="754.6"/><rect x="148.2" y="791.1"/><rect x="301.0" y="746.8"/><rect x="204.6" y="749.4"/><rect x="213.9" y="764.6"/><rect x="145.9" y="765.5"/><rect x="143.5" y="756.6"/><rect x="249.5" y="732.5"/><rect x="102.5" y="785.3"/><rect x="297.4" y="751.8"/><rect x="215.8" y="753.7"/><rect x="158.2" y="790.8"/><rect x="240.0" y="757.3"/><rect x="256.8" y="748.3"/><rect x="179.8" y="742.0"/><rect x="120.0" y="802.0"/><rect x="114.4" y="758.1"/><rect x="292.6" y="756.9"/><rect x="112.8" y="796.9"/><rect x="143.6" y="796.1"/><rect x="166.7" y="755.0"/><rect x="177.2" y="758.8"/><rect x="182.0" y="733.1"/><rect x="234.4" y="750.4"/><rect x="284.0" y="771.7"/><rect x="133.1" y="762.1"/><rect x="278.9" y="765.7"/><rect x="216.3" y="703.4"/><rect x="156.5" y="784.0"/><rect x="264.0" y="764.6"/><rect x="222.8" y="749.2"/><rect x="265.4" y="738.2"/><rect x="221.5" y="770.2"/><rect x="311.9" y="745.4"/><rect x="144.3" y="801.1"/><rect x="213.2" y="719.2"/><rect x="123.3" y="770.2"/><rect x="138.6" y="755.5"/><rect x="242.8" y="737.0"/><rect x="274.6" y="764.0"/><rect x="212.8" y="753.0"/><rect x="255.0" y="742.7"/><rect x="114.5" y="772.8"/><rect x="138.9" y="770.6"/><rect x="162.9" y="760.1"/><rect x="254.7" y="757.6"/><rect x="287.9" y="769.0"/><rect x="232.2" y="752.6"/><rect x="280.2" y="772.6"/><rect x="227.2" y="764.0"/><rect x="206.6" y="778.9"/><rect x="250.8" y="771.7"/><rect x="213.5" y="749.0"/><rect x="126.2" y="773.8"/><rect x="151.7" y="774.3"/><rect x="315.7" y="754.5"/><rect x="273.6" y="732.2"/><rect x="193.5" y="775.0"/><rect x="204.0" y="728.5"/><rect x="221.1" y="775.4"/><rect x="142.7" y="764.8"/><rect x="106.3" y="760.7"/><rect x="120.7" y="758.4"/><rect x="299.4" y="760.7"/><rect x="270.9" y="764.1"/><rect x="278.0" y="754.2"/><rect x="198.1" y="765.6"/><rect x="202.6" y="741.1"/><rect x="243.5" y="729.0"/><rect x="145.1" y="759.9"/><rect x="167.7" y="750.0"/><rect x="108.2" y="760.3"/><rect x="186.1" y="757.9"/><rect x="171.8" y="789.6"/><rect x="227.7" y="744.7"/><rect x="215.6" y="728.7"/><rect x="310.9" y="756.3"/><rect x="162.2" y="786.5"/><rect x="133.7" y="789.0"/><rect x="234.0" y="727.6"/><rect x="181.2" y="750.6"/><rect x="170.9" y="751.6"/><rect x="211.4" y="750.0"/><rect x="129.2" y="778.1"/><rect x="129.4" y="780.8"/><rect x="128.6" y="791.4"/><rect x="121.2" y="796.9"/><rect x="275.7" y="768.7"/><rect x="280.1" y="773.9"/><rect x="194.7" y="747.2"/><rect x="157.9" y="770.5"/><rect x="242.5" y="752.9"/><rect x="238.5" y="717.2"/><rect x="231.5" y="755.8"/><rect x="236.3" y="764.7"/><rect x="242.9" y="756.1"/><rect x="217.2" y="761.2"/><rect x="127.5" y="763.4"/><rect x="253.4" y="727.4"/><rect x="131.3" y="757.5"/><rect x="149.3" y="796.0"/><rect x="166.9" y="761.3"/><rect x="157.2" y="754.6"/><rect x="216.8" y="722.8"/><rect x="282.9" y="751.5"/><rect x="280.7" y="770.0"/><rect x="124.3" y="760.0"/><rect x="138.0" y="770.9"/><rect x="246.6" y="741.7"/><rect x="268.1" y="750.1"/><rect x="311.8" y="752.0"/><rect x="247.8" y="770.4"/><rect x="122.7" y="802.0"/><rect x="159.0" y="750.3"/><rect x="250.9" y="753.9"/><rect x="183.0" y="753.5"/><rect x="214.4" y="760.5"/><rect x="280.8" y="749.3"/><rect x="173.9" y="782.4"/><rect x="234.6" y="756.4"/><rect x="285.0" y="764.4"/><rect x="205.8" y="758.5"/><rect x="200.7" y="774.5"/><rect x="247.8" y="737.8"/><rect x="150.8" y="770.3"/><rect x="263.2" y="690.5"/><rect x="292.1" y="740.0"/><rect x="126.7" y="782.7"/><rect x="104.5" y="773.2"/><rect x="230.0" y="734.8"/><rect x="178.0" y="779.0"/><rect x="237.4" y="759.8"/><rect x="169.9" y="743.7"/><rect x="120.9" y="802.4"/><rect x="283.6" y="737.8"/><rect x="144.2" y="771.2"/><rect x="125.9" y="771.9"/><rect x="305.9" y="745.1"/><rect x="144.4" y="774.0"/><rect x="187.3" y="752.7"/><rect x="115.1" y="778.8"/><rect x="133.9" y="755.7"/><rect x="117.4" y="771.0"/><rect x="201.3" y="763.3"/><rect x="187.4" y="780.6"/><rect x="108.2" y="766.0"/><rect x="169.3" y="760.0"/><rect x="102.7" y="771.9"/><rect x="105.1" y="768.2"/><rect x="204.2" y="777.5"/><rect x="132.3" y="767.3"/><rect x="192.7" y="768.3"/><rect x="147.2" y="805.2"/><rect x="265.0" y="748.5"/><rect x="265.2" y="763.6"/><rect x="213.9" y="755.1"/><rect x="268.5" y="771.3"/><rect x="302.0" y="756.0"/><rect x="170.8" y="769.3"/><rect x="203.7" y="747.6"/><rect x="119.1" y="789.3"/><rect x="228.8" y="767.6"/><rect x="263.7" y="747.3"/><rect x="235.7" y="740.8"/><rect x="117.4" y="779.2"/><rect x="139.3" y="801.3"/><rect x="216.5" y="766.7"/><rect x="217.4" y="768.9"/><rect x="239.6" y="752.9"/><rect x="289.5" y="761.5"/><rect x="207.4" y="725.7"/><rect x="288.9" y="733.9"/><rect x="169.7" y="754.9"/><rect x="196.3" y="741.6"/><rect x="233.3" y="736.1"/><rect x="109.1" y="775.6"/><rect x="274.2" y="744.2"/><rect x="313.2" y="742.6"/><rect x="206.2" y="751.8"/><rect x="212.6" y="727.3"/><rect x="171.9" y="777.7"/><rect x="191.8" y="794.0"/><rect x="206.8" y="762.3"/><rect x="220.7" y="743.8"/><rect x="217.1" y="754.3"/><rect x="302.1" y="747.3"/><rect x="270.6" y="731.6"/><rect x="161.5" y="773.7"/><rect x="174.4" y="741.6"/><rect x="253.2" y="747.7"/><rect x="187.2" y="777.8"/><rect x="286.4" y="759.6"/><rect x="317.0" y="750.0"/><rect x="119.3" y="768.3"/><rect x="187.6" y="730.2"/><rect x="315.6" y="760.8"/><rect x="305.3" y="759.3"/><rect x="294.7" y="739.4"/><rect x="192.9" y="741.8"/><rect x="147.2" y="755.2"/><rect x="268.1" y="708.8"/><rect x="186.7" y="733.9"/><rect x="168.2" y="774.5"/><rect x="236.0" y="763.6"/><rect x="211.4" y="760.5"/><rect x="207.6" y="744.2"/><rect x="217.9" y="811.6"/><rect x="242.5" y="727.1"/><rect x="245.8" y="725.8"/><rect x="182.3" y="772.9"/><rect x="245.6" y="748.8"/><rect x="156.2" y="762.4"/><rect x="305.9" y="751.7"/><rect x="269.4" y="760.3"/><rect x="176.1" y="777.1"/><rect x="133.0" y="774.0"/><rect x="115.8" y="794.3"/><rect x="213.2" y="745.3"/><rect x="244.8" y="771.7"/><rect x="291.2" y="746.8"/><rect x="99.7" y="781.5"/><rect x="214.3" y="761.9"/><rect x="203.3" y="766.2"/><rect x="172.9" y="763.4"/><rect x="109.8" y="787.0"/><rect x="100.0" y="795.6"/><rect x="151.5" y="763.0"/><rect x="201.8" y="726.2"/><rect x="176.6" y="771.0"/><rect x="216.0" y="739.3"/><rect x="235.9" y="752.9"/><rect x="112.2" y="771.0"/><rect x="198.1" y="739.2"/><rect x="137.2" y="759.2"/><rect x="254.5" y="729.5"/><rect x="275.3" y="748.9"/><rect x="185.0" y="745.2"/><rect x="301.8" y="753.8"/><rect x="172.1" y="759.2"/><rect x="118.5" y="769.0"/><rect x="222.6" y="767.0"/><rect x="137.0" y="761.2"/><rect x="288.3" y="749.5"/><rect x="155.2" y="759.0"/><rect x="243.8" y="720.2"/><rect x="258.2" y="757.6"/><rect x="189.6" y="771.3"/><rect x="121.9" y="804.3"/><rect x="304.2" y="743.2"/><rect x="145.7" y="783.3"/><rect x="124.1" y="765.6"/><rect x="190.5" y="776.3"/><rect x="318.5" y="754.1"/><rect x="263.4" y="755.0"/><rect x="161.5" y="778.9"/><rect x="197.9" y="769.6"/><rect x="184.7" y="767.8"/><rect x="303.9" y="762.4"/><rect x="105.5" y="760.6"/><rect x="162.5" y="797.0"/><rect x="319.9" y="749.1"/><rect x="144.4" y="760.5"/><rect x="185.0" y="773.5"/><rect x="270.4" y="730.7"/><rect x="263.1" y="752.8"/><rect x="292.9" y="743.0"/><rect x="160.0" y="763.0"/><rect x="289.9" y="750.7"/><rect x="249.3" y="757.0"/><rect x="280.2" y="757.2"/><rect x="266.4" y="742.8"/><rect x="162.7" y="767.2"/><rect x="191.5" y="790.7"/><rect x="174.2" y="753.9"/><rect x="253.6" y="677.9"/><rect x="118.5" y="762.1"/><rect x="213.2" y="735.3"/><rect x="229.9" y="773.1"/><rect x="260.1" y="767.2"/><rect x="195.4" y="751.0"/><rect x="213.5" y="768.3"/><rect x="119.4" y="774.3"/><rect x="262.7" y="747.5"/><rect x="139.9" y="782.1"/><rect x="219.0" y="766.2"/><rect x="228.1" y="763.7"/><rect x="248.6" y="734.5"/><rect x="255.6" y="751.1"/><rect x="190.4" y="765.5"/><rect x="244.6" y="745.2"/><rect x="239.7" y="769.0"/><rect x="291.6" y="766.3"/><rect x="258.4" y="761.7"/><rect x="177.7" y="757.3"/><rect x="199.1" y="735.2"/><rect x="312.5" y="758.5"/><rect x="220.0" y="746.0"/><rect x="205.0" y="755.7"/><rect x="270.4" y="750.7"/><rect x="198.2" y="787.3"/><rect x="182.4" y="763.3"/><rect x="297.3" y="750.3"/><rect x="194.7" y="764.6"/><rect x="169.4" y="752.9"/><rect x="271.2" y="758.2"/><rect x="285.5" y="772.6"/><rect x="289.1" y="751.3"/><rect x="193.3" y="735.0"/><rect x="296.2" y="759.1"/><rect x="205.8" y="728.7"/><rect x="208.1" y="775.0"/><rect x="273.5" y="739.2"/><rect x="304.8" y="765.0"/><rect x="143.8" y="798.2"/><rect x="162.3" y="746.4"/><rect x="166.1" y="769.2"/><rect x="259.6" y="748.8"/><rect x="279.8" y="740.8"/><rect x="249.3" y="766.2"/><rect x="225.4" y="756.0"/><rect x="304.5" y="749.7"/><rect x="185.4" y="751.1"/><rect x="258.4" y="724.0"/><rect x="103.2" y="764.1"/><rect x="203.4" y="736.8"/><rect x="277.3" y="750.0"/><rect x="131.4" y="789.6"/><rect x="210.4" y="770.6"/><rect x="224.8" y="722.9"/><rect x="141.4" y="777.6"/><rect x="211.0" y="762.9"/><rect x="233.2" y="745.8"/><rect x="264.3" y="758.2"/><rect x="216.3" y="758.9"/><rect x="238.2" y="721.1"/><rect x="177.9" y="786.4"/><rect x="204.6" y="781.4"/><rect x="260.7" y="748.0"/><rect x="235.7" y="728.9"/><rect x="245.7" y="724.2"/><rect x="106.1" y="781.0"/><rect x="114.9" y="780.3"/><rect x="127.8" y="799.7"/><rect x="245.6" y="767.6"/><rect x="187.0" y="776.5"/><rect x="222.6" y="767.3"/><rect x="183.6" y="781.7"/><rect x="196.3" y="737.6"/><rect x="166.5" y="758.0"/><rect x="187.2" y="764.0"/><rect x="115.1" y="759.3"/><rect x="278.6" y="734.8"/><rect x="205.0" y="761.5"/><rect x="244.4" y="723.9"/><rect x="201.8" y="733.7"/><rect x="150.1" y="761.7"/><rect x="225.5" y="750.0"/><rect x="319.5" y="745.0"/><rect x="171.2" y="756.1"/><rect x="186.1" y="762.6"/><rect x="281.1" y="778.1"/><rect x="297.8" y="755.3"/><rect x="144.8" y="762.2"/><rect x="297.6" y="747.3"/><rect x="292.8" y="750.3"/><rect x="258.1" y="730.2"/><rect x="223.2" y="747.2"/><rect x="229.0" y="741.1"/><rect x="114.7" y="760.7"/><rect x="213.2" y="708.1"/><rect x="251.4" y="762.5"/><rect x="116.4" y="764.0"/><rect x="295.7" y="736.0"/><rect x="117.1" y="773.6"/><rect x="282.4" y="751.9"/><rect x="199.8" y="730.3"/><rect x="189.8" y="785.2"/><rect x="144.7" y="768.7"/><rect x="266.2" y="769.3"/><rect x="174.9" y="749.1"/><rect x="224.3" y="772.2"/><rect x="140.7" y="779.9"/><rect x="128.2" y="770.0"/><rect x="114.1" y="766.1"/><rect x="288.4" y="740.9"/><rect x="261.7" y="761.9"/><rect x="200.9" y="755.8"/><rect x="191.1" y="757.9"/><rect x="231.2" y="740.9"/><rect x="202.7" y="753.0"/><rect x="176.0" y="746.8"/><rect x="145.9" y="799.0"/><rect x="254.3" y="738.0"/><rect x="230.5" y="720.0"/><rect x="254.3" y="746.9"/><rect x="266.8" y="747.5"/><rect x="222.6" y="725.7"/><rect x="229.0" y="725.0"/><rect x="190.5" y="745.6"/><rect x="204.2" y="717.8"/><rect x="166.9" y="771.3"/><rect x="207.6" y="768.8"/><rect x="169.7" y="768.4"/><rect x="122.9" y="794.3"/><rect x="219.6" y="754.2"/><rect x="99.3" y="777.3"/><rect x="232.1" y="767.0"/><rect x="181.9" y="745.4"/><rect x="205.4" y="722.8"/><rect x="286.1" y="762.0"/><rect x="270.5" y="745.9"/><rect x="248.0" y="731.2"/><rect x="245.5" y="758.6"/><rect x="222.3" y="763.0"/><rect x="262.5" y="765.8"/><rect x="192.9" y="772.4"/><rect x="151.1" y="784.3"/><rect x="179.6" y="763.1"/><rect x="227.9" y="733.3"/><rect x="165.7" y="821.9"/><rect x="243.3" y="742.1"/><rect x="210.9" y="812.2"/><rect x="272.9" y="756.3"/><rect x="129.7" y="810.0"/><rect x="146.3" y="775.8"/><rect x="133.9" y="757.8"/><rect x="98.7" y="771.1"/><rect x="143.4" y="782.4"/><rect x="204.8" y="758.3"/><rect x="250.4" y="717.9"/><rect x="256.8" y="765.4"/><rect x="177.4" y="797.2"/><rect x="211.5" y="766.7"/><rect x="185.4" y="805.2"/><rect x="200.6" y="724.7"/><rect x="278.2" y="770.6"/><rect x="125.4" y="771.0"/><rect x="187.0" y="745.5"/><rect x="251.1" y="738.9"/><rect x="148.2" y="759.8"/><rect x="191.7" y="762.0"/><rect x="284.4" y="769.7"/><rect x="116.5" y="791.2"/><rect x="228.1" y="760.5"/><rect x="111.6" y="761.0"/><rect x="153.4" y="757.8"/><rect x="244.2" y="763.5"/><rect x="170.0" y="783.3"/><rect x="222.1" y="752.6"/><rect x="198.5" y="749.5"/><rect x="244.1" y="765.6"/><rect x="202.3" y="750.9"/><rect x="255.2" y="705.5"/><rect x="200.7" y="745.6"/><rect x="244.8" y="715.3"/><rect x="299.3" y="741.4"/><rect x="198.3" y="772.0"/><rect x="233.1" y="736.6"/><rect x="130.8" y="777.3"/><rect x="212.2" y="780.2"/><rect x="148.4" y="776.8"/><rect x="197.9" y="753.0"/><rect x="189.4" y="759.5"/><rect x="268.4" y="775.0"/><rect x="202.2" y="781.5"/><rect x="179.5" y="769.0"/><rect x="224.2" y="743.8"/><rect x="150.7" y="756.0"/><rect x="220.6" y="762.7"/><rect x="159.7" y="776.6"/><rect x="215.3" y="742.6"/><rect x="293.8" y="751.1"/><rect x="277.3" y="731.7"/><rect x="236.6" y="771.6"/><rect x="202.6" y="769.1"/><rect x="163.5" y="761.1"/><rect x="179.9" y="748.7"/><rect x="252.8" y="769.4"/><rect x="106.9" y="778.7"/><rect x="241.0" y="726.2"/><rect x="286.5" y="766.0"/><rect x="253.6" y="758.0"/><rect x="162.4" y="749.9"/><rect x="264.7" y="740.8"/><rect x="112.8" y="764.2"/><rect x="236.1" y="748.3"/><rect x="250.5" y="748.4"/><rect x="166.9" y="749.5"/><rect x="208.1" y="734.5"/><rect x="288.1" y="753.1"/><rect x="245.1" y="754.1"/><rect x="131.3" y="776.2"/><rect x="111.0" y="775.9"/><rect x="148.7" y="766.4"/><rect x="270.9" y="751.3"/><rect x="239.9" y="730.4"/><rect x="258.0" y="769.2"/><rect x="293.3" y="759.7"/><rect x="130.9" y="793.3"/><rect x="287.1" y="740.2"/><rect x="162.7" y="751.3"/><rect x="108.4" y="772.0"/><rect x="235.2" y="722.4"/><rect x="302.0" y="760.3"/><rect x="165.5" y="787.9"/><rect x="270.9" y="756.7"/><rect x="216.8" y="747.0"/><rect x="171.9" y="750.1"/><rect x="130.0" y="785.6"/><rect x="257.7" y="747.2"/><rect x="239.2" y="763.9"/><rect x="277.9" y="759.4"/><rect x="273.4" y="753.4"/><rect x="174.3" y="758.6"/><rect x="99.9" y="769.9"/><rect x="199.3" y="764.8"/><rect x="290.1" y="759.7"/><rect x="151.3" y="771.2"/><rect x="165.9" y="752.4"/><rect x="239.9" y="763.0"/><rect x="155.0" y="769.0"/><rect x="271.4" y="761.0"/><rect x="103.9" y="793.2"/><rect x="150.4" y="767.8"/><rect x="207.8" y="770.5"/><rect x="299.4" y="749.0"/><rect x="308.8" y="745.8"/><rect x="105.8" y="778.1"/><rect x="157.2" y="764.0"/><rect x="167.9" y="778.9"/><rect x="163.6" y="789.2"/><rect x="271.8" y="742.5"/><rect x="278.6" y="706.5"/><rect x="237.9" y="738.3"/><rect x="167.8" y="790.3"/><rect x="231.3" y="730.4"/><rect x="133.9" y="771.7"/><rect x="179.7" y="752.3"/><rect x="253.3" y="765.8"/><rect x="140.8" y="818.0"/></g>
</defs>
<rect x="67.3" y="37.5" width="275.5" height="230.8" fill="#fff"/>
<g clip-path="url(#a0)"><path d="M95.35 37.5V268.3M114.80 37.5V268.3M134.25 37.5V268.3M173.15 37.5V268.3M192.60 37.5V268.3M212.05 37.5V268.3M250.95 37.5V268.3M270.40 37.5V268.3M289.85 37.5V268.3M328.75 37.5V268.3M67.3 247.28H342.8M67.3 210.80H342.8M67.3 174.32H342.8M67.3 137.84H342.8M67.3 101.36H342.8M67.3 64.88H342.8" stroke="#969696" stroke-width="1" stroke-dasharray="1 2" fill="none"/><path d="M75.90 37.5V268.3M153.70 37.5V268.3M231.50 37.5V268.3M309.30 37.5V268.3M67.3 265.52H342.8M67.3 229.04H342.8M67.3 192.56H342.8M67.3 156.08H342.8M67.3 119.60H342.8M67.3 83.12H342.8M67.3 46.64H342.8" stroke="#dcdcdc" stroke-width="1" fill="none"/>
<rect x="67.3" y="96.06" width="275.5" height="62.33" fill="#ff0000" fill-opacity="0.25"/>
</g>
<path d="M75.90 268.3v-3.4M75.90 37.5v3.4M153.70 268.3v-3.4M153.70 37.5v3.4M231.50 268.3v-3.4M231.50 37.5v3.4M309.30 268.3v-3.4M309.30 37.5v3.4M67.3 265.52h3.4M342.8 265.52h-3.4M67.3 229.04h3.4M342.8 229.04h-3.4M67.3 192.56h3.4M342.8 192.56h-3.4M67.3 156.08h3.4M342.8 156.08h-3.4M67.3 119.60h3.4M342.8 119.60h-3.4M67.3 83.12h3.4M342.8 83.12h-3.4M67.3 46.64h3.4M342.8 46.64h-3.4" stroke="#262626" stroke-width="1.3" fill="none"/>
<rect x="67.3" y="37.5" width="275.5" height="230.8" fill="none" stroke="#262626" stroke-width="1.5"/>
<g class="mo" clip-path="url(#o0)"><use href="#m0"/></g>
<g class="mi" clip-path="url(#n0)"><use href="#m0"/></g>
<g clip-path="url(#a0)">
<path d="M67.3 96.06H342.8M67.3 158.39H342.8" class="dd"/>
<path d="M67.3 127.23H342.8" stroke="#ff0000" stroke-width="2"/>
</g>
<text transform="translate(75.90,287.2) scale(1.02,1)" class="tk" text-anchor="middle">50</text>
<text transform="translate(153.70,287.2) scale(1.02,1)" class="tk" text-anchor="middle">100</text>
<text transform="translate(231.50,287.2) scale(1.02,1)" class="tk" text-anchor="middle">150</text>
<text transform="translate(309.30,287.2) scale(1.02,1)" class="tk" text-anchor="middle">200</text>
<text transform="translate(60.00,269.2) scale(1.02,1)" class="tk" text-anchor="end">-80</text>
<text transform="translate(60.00,232.7) scale(1.02,1)" class="tk" text-anchor="end">-60</text>
<text transform="translate(60.00,196.3) scale(1.02,1)" class="tk" text-anchor="end">-40</text>
<text transform="translate(60.00,159.8) scale(1.02,1)" class="tk" text-anchor="end">-20</text>
<text transform="translate(60.00,123.3) scale(1.02,1)" class="tk" text-anchor="end">0</text>
<text transform="translate(60.00,86.8) scale(1.02,1)" class="tk" text-anchor="end">20</text>
<text transform="translate(60.00,50.3) scale(1.02,1)" class="tk" text-anchor="end">40</text>
<text transform="translate(205.05,28.2) scale(1.03,1)" class="ti" text-anchor="middle">Systolic Arterial Blood Pressure</text>
<text transform="translate(205.05,307.0) scale(1.024,1)" class="lb" text-anchor="middle">(Ref. + Pred.)/2 [mmHg]</text>
<text transform="translate(28.2,152.9) rotate(-90) scale(1.024,1)" class="lb" text-anchor="middle">(Ref. - Pred.) [mmHg]</text>
<text transform="translate(77.9,244.6) scale(1.015,1)" class="an" text-anchor="start" xml:space="preserve">Mean = -4.182 ;</text>
<text transform="translate(194.3,244.6) scale(1.015,1)" class="an" text-anchor="start" xml:space="preserve">+1.96STD = 12.904</text>
<text transform="translate(194.3,263.0) scale(1.015,1)" class="an" text-anchor="start" xml:space="preserve">-1.96STD = -21.268</text>
<rect x="472.5" y="37.5" width="275.8" height="230.8" fill="#fff"/>
<g clip-path="url(#a1)"><path d="M510.40 37.5V268.3M565.00 37.5V268.3M619.60 37.5V268.3M674.20 37.5V268.3M728.80 37.5V268.3M472.5 262.12H748.3M472.5 233.48H748.3M472.5 204.83H748.3M472.5 176.18H748.3M472.5 147.53H748.3M472.5 118.88H748.3M472.5 90.23H748.3M472.5 61.58H748.3" stroke="#969696" stroke-width="1" stroke-dasharray="1 2" fill="none"/><path d="M483.10 37.5V268.3M537.70 37.5V268.3M592.30 37.5V268.3M646.90 37.5V268.3M701.50 37.5V268.3M472.5 247.80H748.3M472.5 219.15H748.3M472.5 190.50H748.3M472.5 161.85H748.3M472.5 133.20H748.3M472.5 104.55H748.3M472.5 75.90H748.3M472.5 47.25H748.3" stroke="#dcdcdc" stroke-width="1" fill="none"/>
<rect x="472.5" y="61.01" width="275.8" height="29.19" fill="#ff0000" fill-opacity="0.25"/>
</g>
<path d="M483.10 268.3v-3.4M483.10 37.5v3.4M537.70 268.3v-3.4M537.70 37.5v3.4M592.30 268.3v-3.4M592.30 37.5v3.4M646.90 268.3v-3.4M646.90 37.5v3.4M701.50 268.3v-3.4M701.50 37.5v3.4M472.5 247.80h3.4M748.3 247.80h-3.4M472.5 219.15h3.4M748.3 219.15h-3.4M472.5 190.50h3.4M748.3 190.50h-3.4M472.5 161.85h3.4M748.3 161.85h-3.4M472.5 133.20h3.4M748.3 133.20h-3.4M472.5 104.55h3.4M748.3 104.55h-3.4M472.5 75.90h3.4M748.3 75.90h-3.4M472.5 47.25h3.4M748.3 47.25h-3.4" stroke="#262626" stroke-width="1.3" fill="none"/>
<rect x="472.5" y="37.5" width="275.8" height="230.8" fill="none" stroke="#262626" stroke-width="1.5"/>
<g class="mo" clip-path="url(#o1)"><use href="#m1"/></g>
<g class="mi" clip-path="url(#n1)"><use href="#m1"/></g>
<g clip-path="url(#a1)">
<path d="M472.5 61.01H748.3M472.5 90.21H748.3" class="dd"/>
<path d="M472.5 75.61H748.3" stroke="#ff0000" stroke-width="2"/>
</g>
<text transform="translate(483.10,287.2) scale(1.02,1)" class="tk" text-anchor="middle">0</text>
<text transform="translate(537.70,287.2) scale(1.02,1)" class="tk" text-anchor="middle">20</text>
<text transform="translate(592.30,287.2) scale(1.02,1)" class="tk" text-anchor="middle">40</text>
<text transform="translate(646.90,287.2) scale(1.02,1)" class="tk" text-anchor="middle">60</text>
<text transform="translate(701.50,287.2) scale(1.02,1)" class="tk" text-anchor="middle">80</text>
<text transform="translate(465.20,251.5) scale(1.02,1)" class="tk" text-anchor="end">-120</text>
<text transform="translate(465.20,222.8) scale(1.02,1)" class="tk" text-anchor="end">-100</text>
<text transform="translate(465.20,194.2) scale(1.02,1)" class="tk" text-anchor="end">-80</text>
<text transform="translate(465.20,165.6) scale(1.02,1)" class="tk" text-anchor="end">-60</text>
<text transform="translate(465.20,136.9) scale(1.02,1)" class="tk" text-anchor="end">-40</text>
<text transform="translate(465.20,108.3) scale(1.02,1)" class="tk" text-anchor="end">-20</text>
<text transform="translate(465.20,79.6) scale(1.02,1)" class="tk" text-anchor="end">0</text>
<text transform="translate(465.20,51.0) scale(1.02,1)" class="tk" text-anchor="end">20</text>
<text transform="translate(610.40,28.2) scale(1.03,1)" class="ti" text-anchor="middle">Diastolic Arterial Blood Pressure</text>
<text transform="translate(610.40,307.0) scale(1.024,1)" class="lb" text-anchor="middle">(Ref. + Pred.)/2 [mmHg]</text>
<text transform="translate(426.9,152.9) rotate(-90) scale(1.024,1)" class="lb" text-anchor="middle">(Ref. - Pred.) [mmHg]</text>
<text transform="translate(486.6,250.6) scale(1.015,1)" class="an" text-anchor="start" xml:space="preserve">Mean = 0.202 ;</text>
<text transform="translate(592.7,250.6) scale(1.015,1)" class="an" text-anchor="start" xml:space="preserve">+1.96STD = 10.391</text>
<text transform="translate(592.7,264.2) scale(1.015,1)" class="an" text-anchor="start" xml:space="preserve">-1.96STD = -9.987</text>
<rect x="67.3" y="358.5" width="275.5" height="230.8" fill="#fff"/>
<g clip-path="url(#a2)"><path d="M95.94 358.5V589.3M143.42 358.5V589.3M190.90 358.5V589.3M238.38 358.5V589.3M285.86 358.5V589.3M333.34 358.5V589.3M67.3 587.55H342.8M67.3 536.58H342.8M67.3 485.62H342.8M67.3 434.65H342.8M67.3 383.69H342.8" stroke="#969696" stroke-width="1" stroke-dasharray="1 2" fill="none"/><path d="M72.20 358.5V589.3M119.68 358.5V589.3M167.16 358.5V589.3M214.64 358.5V589.3M262.12 358.5V589.3M309.60 358.5V589.3M67.3 562.07H342.8M67.3 511.10H342.8M67.3 460.13H342.8M67.3 409.17H342.8M67.3 358.21H342.8" stroke="#dcdcdc" stroke-width="1" fill="none"/>
<rect x="67.3" y="498.97" width="275.5" height="22.90" fill="#ff0000" fill-opacity="0.25"/>
</g>
<path d="M72.20 589.3v-3.4M72.20 358.5v3.4M119.68 589.3v-3.4M119.68 358.5v3.4M167.16 589.3v-3.4M167.16 358.5v3.4M214.64 589.3v-3.4M214.64 358.5v3.4M262.12 589.3v-3.4M262.12 358.5v3.4M309.60 589.3v-3.4M309.60 358.5v3.4M67.3 562.07h3.4M342.8 562.07h-3.4M67.3 511.10h3.4M342.8 511.10h-3.4M67.3 460.13h3.4M342.8 460.13h-3.4M67.3 409.17h3.4M342.8 409.17h-3.4M67.3 358.21h3.4M342.8 358.21h-3.4" stroke="#262626" stroke-width="1.3" fill="none"/>
<rect x="67.3" y="358.5" width="275.5" height="230.8" fill="none" stroke="#262626" stroke-width="1.5"/>
<g class="mo" clip-path="url(#o2)"><use href="#m2"/></g>
<g class="mi" clip-path="url(#n2)"><use href="#m2"/></g>
<g clip-path="url(#a2)">
<path d="M67.3 498.97H342.8M67.3 521.87H342.8" class="dd"/>
<path d="M67.3 510.42H342.8" stroke="#ff0000" stroke-width="2"/>
</g>
<text transform="translate(72.20,608.2) scale(1.02,1)" class="tk" text-anchor="middle">0</text>
<text transform="translate(119.68,608.2) scale(1.02,1)" class="tk" text-anchor="middle">20</text>
<text transform="translate(167.16,608.2) scale(1.02,1)" class="tk" text-anchor="middle">40</text>
<text transform="translate(214.64,608.2) scale(1.02,1)" class="tk" text-anchor="middle">60</text>
<text transform="translate(262.12,608.2) scale(1.02,1)" class="tk" text-anchor="middle">80</text>
<text transform="translate(309.60,608.2) scale(1.02,1)" class="tk" text-anchor="middle">100</text>
<text transform="translate(60.00,565.8) scale(1.02,1)" class="tk" text-anchor="end">-50</text>
<text transform="translate(60.00,514.8) scale(1.02,1)" class="tk" text-anchor="end">0</text>
<text transform="translate(60.00,463.8) scale(1.02,1)" class="tk" text-anchor="end">50</text>
<text transform="translate(60.00,412.9) scale(1.02,1)" class="tk" text-anchor="end">100</text>
<text transform="translate(60.00,361.9) scale(1.02,1)" class="tk" text-anchor="end">150</text>
<text transform="translate(205.05,349.6) scale(1.03,1)" class="ti" text-anchor="middle">Systolic Pulmonary Arterial Pressure</text>
<text transform="translate(205.05,628.0) scale(1.024,1)" class="lb" text-anchor="middle">(Ref. + Pred.)/2 [mmHg]</text>
<text transform="translate(28.2,473.9) rotate(-90) scale(1.024,1)" class="lb" text-anchor="middle">(Ref. - Pred.) [mmHg]</text>
<text transform="translate(69.1,378.2) scale(1.015,1)" class="an" text-anchor="start" xml:space="preserve">Mean = 0.668 ;</text>
<text transform="translate(171.6,378.2) scale(1.015,1)" class="an" text-anchor="start" xml:space="preserve">+1.96STD = 11.899</text>
<text transform="translate(171.6,389.9) scale(1.015,1)" class="an" text-anchor="start" xml:space="preserve">-1.96STD = -10.563</text>
<rect x="472.5" y="358.5" width="275.8" height="230.8" fill="#fff"/>
<g clip-path="url(#a3)"><path d="M481.00 358.5V589.3M539.00 358.5V589.3M597.00 358.5V589.3M655.00 358.5V589.3M713.00 358.5V589.3M472.5 554.95H748.3M472.5 508.25H748.3M472.5 461.55H748.3M472.5 414.85H748.3M472.5 368.15H748.3" stroke="#969696" stroke-width="1" stroke-dasharray="1 2" fill="none"/><path d="M510.00 358.5V589.3M568.00 358.5V589.3M626.00 358.5V589.3M684.00 358.5V589.3M742.00 358.5V589.3M472.5 578.30H748.3M472.5 531.60H748.3M472.5 484.90H748.3M472.5 438.20H748.3M472.5 391.50H748.3" stroke="#dcdcdc" stroke-width="1" fill="none"/>
<rect x="472.5" y="423.86" width="275.8" height="37.21" fill="#ff0000" fill-opacity="0.25"/>
</g>
<path d="M510.00 589.3v-3.4M510.00 358.5v3.4M568.00 589.3v-3.4M568.00 358.5v3.4M626.00 589.3v-3.4M626.00 358.5v3.4M684.00 589.3v-3.4M684.00 358.5v3.4M742.00 589.3v-3.4M742.00 358.5v3.4M472.5 578.30h3.4M748.3 578.30h-3.4M472.5 531.60h3.4M748.3 531.60h-3.4M472.5 484.90h3.4M748.3 484.90h-3.4M472.5 438.20h3.4M748.3 438.20h-3.4M472.5 391.50h3.4M748.3 391.50h-3.4" stroke="#262626" stroke-width="1.3" fill="none"/>
<rect x="472.5" y="358.5" width="275.8" height="230.8" fill="none" stroke="#262626" stroke-width="1.5"/>
<g class="mo" clip-path="url(#o3)"><use href="#m3"/></g>
<g class="mi" clip-path="url(#n3)"><use href="#m3"/></g>
<g clip-path="url(#a3)">
<path d="M472.5 423.86H748.3M472.5 461.07H748.3" class="dd"/>
<path d="M472.5 442.47H748.3" stroke="#ff0000" stroke-width="2"/>
</g>
<text transform="translate(510.00,608.2) scale(1.02,1)" class="tk" text-anchor="middle">-10</text>
<text transform="translate(568.00,608.2) scale(1.02,1)" class="tk" text-anchor="middle">0</text>
<text transform="translate(626.00,608.2) scale(1.02,1)" class="tk" text-anchor="middle">10</text>
<text transform="translate(684.00,608.2) scale(1.02,1)" class="tk" text-anchor="middle">20</text>
<text transform="translate(742.00,608.2) scale(1.02,1)" class="tk" text-anchor="middle">30</text>
<text transform="translate(465.20,582.0) scale(1.02,1)" class="tk" text-anchor="end">-60</text>
<text transform="translate(465.20,535.3) scale(1.02,1)" class="tk" text-anchor="end">-40</text>
<text transform="translate(465.20,488.6) scale(1.02,1)" class="tk" text-anchor="end">-20</text>
<text transform="translate(465.20,441.9) scale(1.02,1)" class="tk" text-anchor="end">0</text>
<text transform="translate(465.20,395.2) scale(1.02,1)" class="tk" text-anchor="end">20</text>
<text transform="translate(610.40,349.6) scale(1.03,1)" class="ti" text-anchor="middle">Diastolic Pulmonary Arterial Pressure</text>
<text transform="translate(610.40,628.0) scale(1.024,1)" class="lb" text-anchor="middle">(Ref. + Pred.)/2 [mmHg]</text>
<text transform="translate(433.4,473.9) rotate(-90) scale(1.024,1)" class="lb" text-anchor="middle">(Ref. - Pred.) [mmHg]</text>
<text transform="translate(478.7,569.2) scale(1.015,1)" class="an" text-anchor="start" xml:space="preserve">Mean = -1.827 ;</text>
<text transform="translate(592.1,569.2) scale(1.015,1)" class="an" text-anchor="start" xml:space="preserve">+1.96STD = 6.140</text>
<text transform="translate(592.1,585.8) scale(1.015,1)" class="an" text-anchor="start" xml:space="preserve">-1.96STD = -9.794</text>
<rect x="67.3" y="679.4" width="275.5" height="231.0" fill="#fff"/>
<g clip-path="url(#a4)"><path d="M71.50 679.4V910.4M91.50 679.4V910.4M111.50 679.4V910.4M151.50 679.4V910.4M171.50 679.4V910.4M191.50 679.4V910.4M231.50 679.4V910.4M251.50 679.4V910.4M271.50 679.4V910.4M311.50 679.4V910.4M331.50 679.4V910.4M67.3 901.46H342.8M67.3 870.89H342.8M67.3 840.32H342.8M67.3 809.75H342.8M67.3 779.18H342.8M67.3 748.62H342.8M67.3 718.04H342.8M67.3 687.48H342.8" stroke="#969696" stroke-width="1" stroke-dasharray="1 2" fill="none"/><path d="M131.50 679.4V910.4M211.50 679.4V910.4M291.50 679.4V910.4M67.3 886.18H342.8M67.3 855.61H342.8M67.3 825.04H342.8M67.3 794.47H342.8M67.3 763.90H342.8M67.3 733.33H342.8M67.3 702.76H342.8" stroke="#dcdcdc" stroke-width="1" fill="none"/>
<rect x="67.3" y="751.37" width="275.5" height="25.80" fill="#ff0000" fill-opacity="0.25"/>
</g>
<path d="M131.50 910.4v-3.4M131.50 679.4v3.4M211.50 910.4v-3.4M211.50 679.4v3.4M291.50 910.4v-3.4M291.50 679.4v3.4M67.3 886.18h3.4M342.8 886.18h-3.4M67.3 855.61h3.4M342.8 855.61h-3.4M67.3 825.04h3.4M342.8 825.04h-3.4M67.3 794.47h3.4M342.8 794.47h-3.4M67.3 763.90h3.4M342.8 763.90h-3.4M67.3 733.33h3.4M342.8 733.33h-3.4M67.3 702.76h3.4M342.8 702.76h-3.4" stroke="#262626" stroke-width="1.3" fill="none"/>
<rect x="67.3" y="679.4" width="275.5" height="231.0" fill="none" stroke="#262626" stroke-width="1.5"/>
<g class="mo" clip-path="url(#o4)"><use href="#m4"/></g>
<g class="mi" clip-path="url(#n4)"><use href="#m4"/></g>
<g clip-path="url(#a4)">
<path d="M67.3 751.37H342.8M67.3 777.17H342.8" class="dd"/>
<path d="M67.3 764.27H342.8" stroke="#ff0000" stroke-width="2"/>
</g>
<text transform="translate(131.50,929.3) scale(1.02,1)" class="tk" text-anchor="middle">0</text>
<text transform="translate(211.50,929.3) scale(1.02,1)" class="tk" text-anchor="middle">10</text>
<text transform="translate(291.50,929.3) scale(1.02,1)" class="tk" text-anchor="middle">20</text>
<text transform="translate(60.00,889.9) scale(1.02,1)" class="tk" text-anchor="end">-40</text>
<text transform="translate(60.00,859.3) scale(1.02,1)" class="tk" text-anchor="end">-30</text>
<text transform="translate(60.00,828.7) scale(1.02,1)" class="tk" text-anchor="end">-20</text>
<text transform="translate(60.00,798.2) scale(1.02,1)" class="tk" text-anchor="end">-10</text>
<text transform="translate(60.00,767.6) scale(1.02,1)" class="tk" text-anchor="end">0</text>
<text transform="translate(60.00,737.0) scale(1.02,1)" class="tk" text-anchor="end">10</text>
<text transform="translate(60.00,706.5) scale(1.02,1)" class="tk" text-anchor="end">20</text>
<text transform="translate(205.05,670.3) scale(1.03,1)" class="ti" text-anchor="middle">Mean Central Venous Pressure</text>
<text transform="translate(205.05,949.1) scale(1.024,1)" class="lb" text-anchor="middle">(Ref. + Pred.)/2 [mmHg]</text>
<text transform="translate(28.2,794.9) rotate(-90) scale(1.024,1)" class="lb" text-anchor="middle">(Ref. - Pred.) [mmHg]</text>
<text transform="translate(75.3,882.3) scale(1.015,1)" class="an" text-anchor="start" xml:space="preserve">Mean = -0.121 ;</text>
<text transform="translate(208,882.3) scale(1.015,1)" class="an" text-anchor="start" xml:space="preserve">+1.96STD = 4.099 ;</text>
<text transform="translate(211.5,898.2) scale(1.015,1)" class="an" text-anchor="start" xml:space="preserve">-1.96STD = -4.341 ;</text>
</svg></body></html>
